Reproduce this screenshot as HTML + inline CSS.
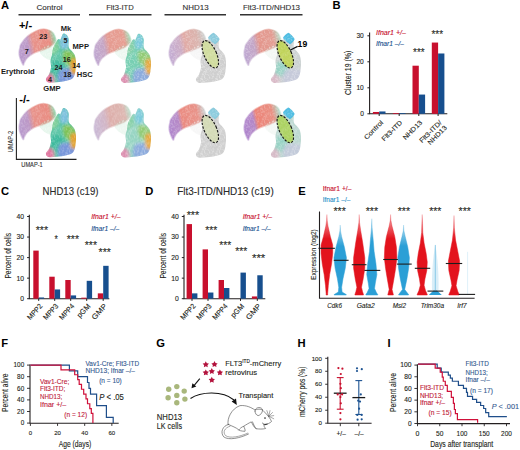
<!DOCTYPE html>
<html><head><meta charset="utf-8"><style>
html,body{margin:0;padding:0;background:#fff;width:520px;height:450px;overflow:hidden}
svg{display:block}
text{font-family:"Liberation Sans", sans-serif}
</style></head><body>
<svg width="520" height="450" viewBox="0 0 520 450" font-family='"Liberation Sans", sans-serif'>
<rect width="520" height="450" fill="#fff"/>
<text x="1.0" y="9.4" font-size="11.2" fill="#000" font-weight="bold">A</text>
<text x="332.6" y="9.4" font-size="11.2" fill="#000" font-weight="bold">B</text>
<text x="1.0" y="194.7" font-size="11.2" fill="#000" font-weight="bold">C</text>
<text x="145.2" y="194.7" font-size="11.2" fill="#000" font-weight="bold">D</text>
<text x="298.3" y="194.7" font-size="11.2" fill="#000" font-weight="bold">E</text>
<text x="1.2" y="346.9" font-size="11.2" fill="#000" font-weight="bold">F</text>
<text x="156.3" y="346.9" font-size="11.2" fill="#000" font-weight="bold">G</text>
<text x="297.4" y="346.9" font-size="11.2" fill="#000" font-weight="bold">H</text>
<text x="387.4" y="346.9" font-size="11.2" fill="#000" font-weight="bold">I</text>
<text x="49.5" y="10.1" font-size="7.8" fill="#333" stroke="#333" stroke-width="0.12" text-anchor="middle" textLength="26" lengthAdjust="spacingAndGlyphs">Control</text>
<text x="120" y="10.1" font-size="7.8" fill="#333" stroke="#333" stroke-width="0.12" text-anchor="middle" textLength="27.6" lengthAdjust="spacingAndGlyphs">Flt3-ITD</text>
<text x="195.6" y="10.1" font-size="7.8" fill="#333" stroke="#333" stroke-width="0.12" text-anchor="middle" textLength="26" lengthAdjust="spacingAndGlyphs">NHD13</text>
<text x="271.5" y="10.1" font-size="7.8" fill="#333" stroke="#333" stroke-width="0.12" text-anchor="middle" textLength="57" lengthAdjust="spacingAndGlyphs">Flt3-ITD/NHD13</text>
<line x1="18.5" y1="14.8" x2="80" y2="14.8" stroke="#333" stroke-width="1.5" />
<line x1="89" y1="14.8" x2="151.5" y2="14.8" stroke="#333" stroke-width="1.5" />
<line x1="164.5" y1="14.8" x2="226" y2="14.8" stroke="#333" stroke-width="1.5" />
<line x1="240" y1="14.8" x2="302.5" y2="14.8" stroke="#333" stroke-width="1.5" />
<defs><filter id="soft2" x="-10%" y="-10%" width="120%" height="120%"><feGaussianBlur stdDeviation="1.5"/></filter><filter id="edge" x="-10%" y="-10%" width="120%" height="120%"><feGaussianBlur stdDeviation="0.45"/></filter><clipPath id="brc"><rect x="0" y="0" width="70" height="70"/></clipPath><pattern id="spk" width="15" height="15" patternUnits="userSpaceOnUse"><g fill="#fff"><circle cx="6.8" cy="8.4" r="0.53"/><circle cx="7.0" cy="7.6" r="0.45"/><circle cx="2.8" cy="7.7" r="0.46"/><circle cx="11.9" cy="1.4" r="0.38"/><circle cx="1.4" cy="12.1" r="0.47"/><circle cx="0.6" cy="-0.3" r="0.54"/><circle cx="0.6" cy="14.7" r="0.54"/><circle cx="9.8" cy="9.2" r="0.34"/><circle cx="0.2" cy="7.9" r="0.31"/><circle cx="15.2" cy="7.9" r="0.31"/><circle cx="2.9" cy="3.6" r="0.31"/><circle cx="7.0" cy="6.6" r="0.51"/><circle cx="7.8" cy="9.6" r="0.42"/><circle cx="9.9" cy="6.9" r="0.37"/><circle cx="-0.0" cy="-0.1" r="0.51"/><circle cx="-0.0" cy="14.9" r="0.51"/><circle cx="15.0" cy="-0.1" r="0.51"/><circle cx="15.0" cy="14.9" r="0.51"/><circle cx="10.6" cy="4.7" r="0.36"/><circle cx="4.3" cy="1.1" r="0.49"/><circle cx="6.0" cy="12.7" r="0.40"/><circle cx="14.4" cy="12.7" r="0.30"/><circle cx="3.1" cy="13.7" r="0.42"/><circle cx="-0.3" cy="6.0" r="0.32"/><circle cx="14.7" cy="6.0" r="0.32"/><circle cx="9.4" cy="11.7" r="0.37"/><circle cx="1.3" cy="5.0" r="0.54"/><circle cx="11.4" cy="1.8" r="0.36"/><circle cx="1.5" cy="0.9" r="0.50"/><circle cx="2.7" cy="8.4" r="0.41"/><circle cx="2.9" cy="11.0" r="0.33"/><circle cx="9.7" cy="1.7" r="0.41"/><circle cx="3.2" cy="4.0" r="0.54"/><circle cx="12.1" cy="4.6" r="0.52"/><circle cx="3.2" cy="5.9" r="0.51"/><circle cx="9.6" cy="1.5" r="0.55"/><circle cx="3.2" cy="3.9" r="0.49"/><circle cx="4.9" cy="4.4" r="0.32"/><circle cx="1.4" cy="8.7" r="0.36"/><circle cx="9.0" cy="5.6" r="0.41"/><circle cx="14.4" cy="7.3" r="0.44"/><circle cx="13.0" cy="2.7" r="0.34"/><circle cx="13.6" cy="12.3" r="0.36"/><circle cx="2.8" cy="11.1" r="0.54"/><circle cx="2.9" cy="14.3" r="0.52"/><circle cx="9.1" cy="6.3" r="0.33"/><circle cx="0.6" cy="-0.6" r="0.36"/><circle cx="0.6" cy="14.4" r="0.36"/><circle cx="15.6" cy="-0.6" r="0.36"/><circle cx="15.6" cy="14.4" r="0.36"/><circle cx="10.6" cy="3.9" r="0.51"/><circle cx="8.9" cy="4.4" r="0.34"/><circle cx="10.8" cy="1.0" r="0.36"/><circle cx="8.4" cy="12.8" r="0.45"/><circle cx="4.2" cy="13.8" r="0.35"/><circle cx="0.2" cy="4.0" r="0.41"/><circle cx="15.2" cy="4.0" r="0.41"/><circle cx="0.9" cy="2.6" r="0.39"/><circle cx="8.6" cy="2.0" r="0.39"/><circle cx="13.4" cy="-0.3" r="0.46"/><circle cx="13.4" cy="14.7" r="0.46"/><circle cx="10.4" cy="8.8" r="0.34"/><circle cx="0.5" cy="0.3" r="0.53"/><circle cx="0.5" cy="15.3" r="0.53"/><circle cx="15.5" cy="0.3" r="0.53"/><circle cx="15.5" cy="15.3" r="0.53"/><circle cx="10.5" cy="-0.6" r="0.31"/><circle cx="10.5" cy="14.4" r="0.31"/><circle cx="9.5" cy="7.2" r="0.48"/><circle cx="4.8" cy="-0.0" r="0.32"/><circle cx="4.8" cy="15.0" r="0.32"/><circle cx="8.2" cy="11.1" r="0.53"/><circle cx="11.1" cy="10.6" r="0.50"/><circle cx="13.7" cy="5.3" r="0.47"/><circle cx="13.5" cy="13.1" r="0.40"/><circle cx="11.9" cy="13.0" r="0.44"/><circle cx="9.4" cy="5.7" r="0.45"/><circle cx="9.1" cy="1.2" r="0.46"/><circle cx="-0.1" cy="13.2" r="0.48"/><circle cx="14.9" cy="13.2" r="0.48"/><circle cx="5.8" cy="11.0" r="0.45"/><circle cx="6.6" cy="12.6" r="0.32"/><circle cx="11.3" cy="0.4" r="0.45"/><circle cx="11.3" cy="15.4" r="0.45"/><circle cx="7.2" cy="3.5" r="0.47"/><circle cx="7.5" cy="9.2" r="0.53"/><circle cx="3.8" cy="0.2" r="0.38"/><circle cx="3.8" cy="15.2" r="0.38"/><circle cx="10.2" cy="3.0" r="0.34"/><circle cx="13.6" cy="9.9" r="0.41"/><circle cx="13.4" cy="4.9" r="0.47"/><circle cx="3.0" cy="6.5" r="0.50"/><circle cx="13.7" cy="13.2" r="0.40"/><circle cx="8.7" cy="4.7" r="0.33"/><circle cx="7.4" cy="12.6" r="0.51"/><circle cx="10.7" cy="14.3" r="0.37"/><circle cx="2.5" cy="6.8" r="0.37"/><circle cx="3.2" cy="6.2" r="0.46"/><circle cx="7.4" cy="4.7" r="0.51"/><circle cx="-0.3" cy="6.8" r="0.32"/><circle cx="14.7" cy="6.8" r="0.32"/><circle cx="0.5" cy="13.1" r="0.31"/><circle cx="15.5" cy="13.1" r="0.31"/><circle cx="10.6" cy="8.6" r="0.38"/><circle cx="11.9" cy="0.3" r="0.33"/><circle cx="11.9" cy="15.3" r="0.33"/><circle cx="6.8" cy="0.4" r="0.51"/><circle cx="6.8" cy="15.4" r="0.51"/><circle cx="3.6" cy="2.1" r="0.31"/><circle cx="9.4" cy="6.7" r="0.46"/><circle cx="9.8" cy="12.1" r="0.54"/><circle cx="10.3" cy="3.0" r="0.42"/><circle cx="2.7" cy="0.2" r="0.42"/><circle cx="2.7" cy="15.2" r="0.42"/><circle cx="10.7" cy="2.7" r="0.37"/><circle cx="5.2" cy="10.5" r="0.43"/><circle cx="9.2" cy="11.3" r="0.40"/><circle cx="11.9" cy="13.6" r="0.32"/><circle cx="14.0" cy="10.8" r="0.33"/><circle cx="6.8" cy="9.4" r="0.53"/><circle cx="5.7" cy="8.5" r="0.52"/><circle cx="12.0" cy="14.2" r="0.42"/><circle cx="9.8" cy="3.1" r="0.48"/><circle cx="12.3" cy="9.6" r="0.48"/><circle cx="3.2" cy="13.5" r="0.55"/><circle cx="-0.3" cy="8.1" r="0.50"/><circle cx="14.7" cy="8.1" r="0.50"/><circle cx="4.8" cy="13.6" r="0.51"/><circle cx="5.2" cy="1.2" r="0.41"/><circle cx="8.3" cy="11.5" r="0.42"/><circle cx="0.4" cy="12.1" r="0.32"/><circle cx="15.4" cy="12.1" r="0.32"/><circle cx="12.0" cy="2.6" r="0.38"/><circle cx="11.8" cy="2.1" r="0.34"/><circle cx="7.7" cy="10.9" r="0.51"/><circle cx="10.3" cy="14.2" r="0.42"/><circle cx="14.2" cy="1.3" r="0.36"/><circle cx="7.9" cy="4.4" r="0.48"/><circle cx="9.6" cy="7.8" r="0.51"/><circle cx="8.4" cy="4.7" r="0.40"/><circle cx="12.7" cy="13.5" r="0.35"/><circle cx="12.8" cy="-0.5" r="0.43"/><circle cx="12.8" cy="14.5" r="0.43"/><circle cx="8.6" cy="3.0" r="0.43"/><circle cx="7.5" cy="9.1" r="0.31"/><circle cx="-0.5" cy="7.7" r="0.40"/><circle cx="14.5" cy="7.7" r="0.40"/><circle cx="12.0" cy="8.4" r="0.42"/><circle cx="10.4" cy="1.0" r="0.43"/><circle cx="6.2" cy="14.4" r="0.53"/><circle cx="4.0" cy="7.1" r="0.33"/><circle cx="6.5" cy="12.2" r="0.53"/><circle cx="7.1" cy="4.8" r="0.35"/><circle cx="9.3" cy="13.9" r="0.33"/><circle cx="11.7" cy="0.3" r="0.35"/><circle cx="11.7" cy="15.3" r="0.35"/><circle cx="3.4" cy="10.3" r="0.38"/><circle cx="5.3" cy="9.3" r="0.33"/><circle cx="11.0" cy="1.8" r="0.43"/></g></pattern></defs>
<g transform="translate(15 24.8)">
<defs><linearGradient id="cg1" gradientUnits="userSpaceOnUse" x1="4" y1="22" x2="40" y2="14"><stop offset="0" stop-color="#b899cc"/><stop offset="0.25" stop-color="#bc98c6"/><stop offset="0.4" stop-color="#e7928a"/><stop offset="0.84" stop-color="#e98b80"/><stop offset="1" stop-color="#94d0a8"/></linearGradient><clipPath id="cc1"><path d="M8.10 39.90 C7.43 39.07 5.65 34.93 5.00 33.00 C4.35 31.07 4.20 29.97 4.20 28.30 C4.20 26.63 4.65 24.55 5.00 23.00 C5.35 21.45 5.02 20.93 6.30 19.00 C7.58 17.07 10.20 13.53 12.70 11.40 C15.20 9.27 18.65 7.38 21.30 6.20 C23.95 5.02 26.15 4.25 28.60 4.30 C31.05 4.35 34.13 5.30 36.00 6.50 C37.87 7.70 39.08 9.75 39.80 11.50 C40.52 13.25 41.18 15.22 40.30 17.00 C39.42 18.78 36.72 20.82 34.50 22.20 C32.28 23.58 29.58 24.30 27.00 25.30 C24.42 26.30 21.48 26.90 19.00 28.20 C16.52 29.50 13.77 31.47 12.10 33.10 C10.43 34.73 9.67 36.87 9.00 38.00 C8.33 39.13 8.77 40.73 8.10 39.90Z"/></clipPath><clipPath id="cb1"><path d="M45.50 14.50 C46.33 13.58 47.00 9.75 48.00 9.00 C49.00 8.25 50.53 9.08 51.50 10.00 C52.47 10.92 53.42 12.42 53.80 14.50 C54.18 16.58 53.27 20.50 53.80 22.50 C54.33 24.50 56.00 25.17 57.00 26.50 C58.00 27.83 59.13 28.72 59.80 30.50 C60.47 32.28 60.90 34.53 61.00 37.20 C61.10 39.87 60.90 43.83 60.40 46.50 C59.90 49.17 59.48 51.62 58.00 53.20 C56.52 54.78 54.18 55.28 51.50 56.00 C48.82 56.72 44.90 57.20 41.90 57.50 C38.90 57.80 35.33 58.37 33.50 57.80 C31.67 57.23 30.83 55.45 30.90 54.10 C30.97 52.75 33.05 51.62 33.90 49.70 C34.75 47.78 35.73 44.88 36.00 42.60 C36.27 40.32 35.33 38.10 35.50 36.00 C35.67 33.90 36.67 31.75 37.00 30.00 C37.33 28.25 37.08 27.17 37.50 25.50 C37.92 23.83 38.58 21.83 39.50 20.00 C40.42 18.17 42.00 15.42 43.00 14.50 C44.00 13.58 44.67 15.42 45.50 14.50Z"/></clipPath></defs>
<g filter="url(#edge)">
<path d="M8.10 39.90 C7.43 39.07 5.65 34.93 5.00 33.00 C4.35 31.07 4.20 29.97 4.20 28.30 C4.20 26.63 4.65 24.55 5.00 23.00 C5.35 21.45 5.02 20.93 6.30 19.00 C7.58 17.07 10.20 13.53 12.70 11.40 C15.20 9.27 18.65 7.38 21.30 6.20 C23.95 5.02 26.15 4.25 28.60 4.30 C31.05 4.35 34.13 5.30 36.00 6.50 C37.87 7.70 39.08 9.75 39.80 11.50 C40.52 13.25 41.18 15.22 40.30 17.00 C39.42 18.78 36.72 20.82 34.50 22.20 C32.28 23.58 29.58 24.30 27.00 25.30 C24.42 26.30 21.48 26.90 19.00 28.20 C16.52 29.50 13.77 31.47 12.10 33.10 C10.43 34.73 9.67 36.87 9.00 38.00 C8.33 39.13 8.77 40.73 8.10 39.90Z" fill="none" stroke="url(#cg1)" stroke-width="1.8" stroke-opacity="0.45"/>
<g clip-path="url(#cc1)"><rect x="0" y="0" width="45" height="45" fill="url(#cg1)"/><rect x="0" y="0" width="45" height="45" fill="url(#spk)" fill-opacity="0.25"/></g>
<g clip-path="url(#brc)"><path d="M26.00 24.50 C27.83 23.17 34.00 19.42 36.00 20.00 C38.00 20.58 38.00 25.50 38.00 28.00 C38.00 30.50 37.33 34.17 36.00 35.00 C34.67 35.83 31.83 34.17 30.00 33.00 C28.17 31.83 25.67 29.42 25.00 28.00 C24.33 26.58 24.17 25.83 26.00 24.50Z" fill="#8fd4a8" fill-opacity="0.22"/><path d="M26.00 24.50 C27.83 23.17 34.00 19.42 36.00 20.00 C38.00 20.58 38.00 25.50 38.00 28.00 C38.00 30.50 37.33 34.17 36.00 35.00 C34.67 35.83 31.83 34.17 30.00 33.00 C28.17 31.83 25.67 29.42 25.00 28.00 C24.33 26.58 24.17 25.83 26.00 24.50Z" fill="url(#spk)" fill-opacity="0.5"/></g>
<g clip-path="url(#cb1)"><g filter="url(#soft2)">
<rect x="25" y="5" width="42" height="58" fill="#5cc5a6"/>
<path d="M36.00 14.00 C37.50 12.17 40.67 13.33 42.00 15.00 C43.33 16.67 44.67 21.50 44.00 24.00 C43.33 26.50 39.83 29.67 38.00 30.00 C36.17 30.33 33.33 28.67 33.00 26.00 C32.67 23.33 34.50 15.83 36.00 14.00Z" fill="#7fcf9a" fill-opacity="1"/>
<path d="M49.00 26.00 C50.50 25.00 54.83 25.83 57.00 27.00 C59.17 28.17 61.33 30.83 62.00 33.00 C62.67 35.17 62.67 38.83 61.00 40.00 C59.33 41.17 54.17 41.17 52.00 40.00 C49.83 38.83 48.50 35.33 48.00 33.00 C47.50 30.67 47.50 27.00 49.00 26.00Z" fill="#7fc256" fill-opacity="1"/>
<path d="M36.00 38.00 C37.67 35.83 43.83 36.00 46.00 37.00 C48.17 38.00 49.17 41.83 49.00 44.00 C48.83 46.17 47.17 49.00 45.00 50.00 C42.83 51.00 37.50 52.00 36.00 50.00 C34.50 48.00 34.33 40.17 36.00 38.00Z" fill="#3cb99d" fill-opacity="1"/>
<path d="M45.00 45.00 C47.17 42.67 54.00 43.50 57.00 44.00 C60.00 44.50 62.50 45.83 63.00 48.00 C63.50 50.17 63.17 55.33 60.00 57.00 C56.83 58.67 46.50 60.00 44.00 58.00 C41.50 56.00 42.83 47.33 45.00 45.00Z" fill="#7896da" fill-opacity="1"/>
<path d="M28.00 50.00 C29.17 48.08 33.17 48.00 35.00 48.50 C36.83 49.00 38.50 51.08 39.00 53.00 C39.50 54.92 39.83 58.83 38.00 60.00 C36.17 61.17 29.67 61.67 28.00 60.00 C26.33 58.33 26.83 51.92 28.00 50.00Z" fill="#df78a0" fill-opacity="1"/>
<path d="M55.50 35.50 C56.50 33.25 60.50 33.42 62.00 34.50 C63.50 35.58 64.50 39.58 64.50 42.00 C64.50 44.42 63.42 48.00 62.00 49.00 C60.58 50.00 57.08 50.25 56.00 48.00 C54.92 45.75 54.50 37.75 55.50 35.50Z" fill="#e1a232" fill-opacity="1"/>
<path d="M45.50 14.50 C46.00 12.50 47.00 9.75 48.00 9.00 C49.00 8.25 50.58 9.08 51.50 10.00 C52.42 10.92 53.20 12.50 53.50 14.50 C53.80 16.50 54.13 20.33 53.30 22.00 C52.47 23.67 49.88 24.67 48.50 24.50 C47.12 24.33 45.50 22.67 45.00 21.00 C44.50 19.33 45.00 16.50 45.50 14.50Z" fill="#7cc0de" fill-opacity="1"/>
</g>
<rect x="25" y="5" width="42" height="58" fill="url(#spk)" fill-opacity="0.3"/>
</g>
</g>
</g>
<g transform="translate(90 25)">
<defs><linearGradient id="cg2" gradientUnits="userSpaceOnUse" x1="4" y1="22" x2="40" y2="14"><stop offset="0" stop-color="#bfa6cf"/><stop offset="0.27" stop-color="#c6a6c4"/><stop offset="0.42" stop-color="#e59b91"/><stop offset="0.84" stop-color="#e79e92"/><stop offset="1" stop-color="#a5d6b4"/></linearGradient><clipPath id="cc2"><path d="M8.10 39.90 C7.43 39.07 5.65 34.93 5.00 33.00 C4.35 31.07 4.20 29.97 4.20 28.30 C4.20 26.63 4.65 24.55 5.00 23.00 C5.35 21.45 5.02 20.93 6.30 19.00 C7.58 17.07 10.20 13.53 12.70 11.40 C15.20 9.27 18.65 7.38 21.30 6.20 C23.95 5.02 26.15 4.25 28.60 4.30 C31.05 4.35 34.13 5.30 36.00 6.50 C37.87 7.70 39.08 9.75 39.80 11.50 C40.52 13.25 41.18 15.22 40.30 17.00 C39.42 18.78 36.72 20.82 34.50 22.20 C32.28 23.58 29.58 24.30 27.00 25.30 C24.42 26.30 21.48 26.90 19.00 28.20 C16.52 29.50 13.77 31.47 12.10 33.10 C10.43 34.73 9.67 36.87 9.00 38.00 C8.33 39.13 8.77 40.73 8.10 39.90Z"/></clipPath><clipPath id="cb2"><path d="M45.50 14.50 C46.33 13.58 47.00 9.75 48.00 9.00 C49.00 8.25 50.53 9.08 51.50 10.00 C52.47 10.92 53.42 12.42 53.80 14.50 C54.18 16.58 53.27 20.50 53.80 22.50 C54.33 24.50 56.00 25.17 57.00 26.50 C58.00 27.83 59.13 28.72 59.80 30.50 C60.47 32.28 60.90 34.53 61.00 37.20 C61.10 39.87 60.90 43.83 60.40 46.50 C59.90 49.17 59.48 51.62 58.00 53.20 C56.52 54.78 54.18 55.28 51.50 56.00 C48.82 56.72 44.90 57.20 41.90 57.50 C38.90 57.80 35.33 58.37 33.50 57.80 C31.67 57.23 30.83 55.45 30.90 54.10 C30.97 52.75 33.05 51.62 33.90 49.70 C34.75 47.78 35.73 44.88 36.00 42.60 C36.27 40.32 35.33 38.10 35.50 36.00 C35.67 33.90 36.67 31.75 37.00 30.00 C37.33 28.25 37.08 27.17 37.50 25.50 C37.92 23.83 38.58 21.83 39.50 20.00 C40.42 18.17 42.00 15.42 43.00 14.50 C44.00 13.58 44.67 15.42 45.50 14.50Z"/></clipPath></defs>
<g filter="url(#edge)">
<path d="M8.10 39.90 C7.43 39.07 5.65 34.93 5.00 33.00 C4.35 31.07 4.20 29.97 4.20 28.30 C4.20 26.63 4.65 24.55 5.00 23.00 C5.35 21.45 5.02 20.93 6.30 19.00 C7.58 17.07 10.20 13.53 12.70 11.40 C15.20 9.27 18.65 7.38 21.30 6.20 C23.95 5.02 26.15 4.25 28.60 4.30 C31.05 4.35 34.13 5.30 36.00 6.50 C37.87 7.70 39.08 9.75 39.80 11.50 C40.52 13.25 41.18 15.22 40.30 17.00 C39.42 18.78 36.72 20.82 34.50 22.20 C32.28 23.58 29.58 24.30 27.00 25.30 C24.42 26.30 21.48 26.90 19.00 28.20 C16.52 29.50 13.77 31.47 12.10 33.10 C10.43 34.73 9.67 36.87 9.00 38.00 C8.33 39.13 8.77 40.73 8.10 39.90Z" fill="none" stroke="url(#cg2)" stroke-width="1.8" stroke-opacity="0.45"/>
<g clip-path="url(#cc2)"><rect x="0" y="0" width="45" height="45" fill="url(#cg2)"/><rect x="0" y="0" width="45" height="45" fill="url(#spk)" fill-opacity="0.25"/></g>
<g clip-path="url(#brc)"><path d="M26.00 24.50 C27.83 23.17 34.00 19.42 36.00 20.00 C38.00 20.58 38.00 25.50 38.00 28.00 C38.00 30.50 37.33 34.17 36.00 35.00 C34.67 35.83 31.83 34.17 30.00 33.00 C28.17 31.83 25.67 29.42 25.00 28.00 C24.33 26.58 24.17 25.83 26.00 24.50Z" fill="#a7dcbc" fill-opacity="0.22"/><path d="M26.00 24.50 C27.83 23.17 34.00 19.42 36.00 20.00 C38.00 20.58 38.00 25.50 38.00 28.00 C38.00 30.50 37.33 34.17 36.00 35.00 C34.67 35.83 31.83 34.17 30.00 33.00 C28.17 31.83 25.67 29.42 25.00 28.00 C24.33 26.58 24.17 25.83 26.00 24.50Z" fill="url(#spk)" fill-opacity="0.5"/></g>
<g clip-path="url(#cb2)"><g filter="url(#soft2)">
<rect x="25" y="5" width="42" height="58" fill="#78cfb3"/>
<path d="M36.00 14.00 C37.50 12.17 40.67 13.33 42.00 15.00 C43.33 16.67 44.67 21.50 44.00 24.00 C43.33 26.50 39.83 29.67 38.00 30.00 C36.17 30.33 33.33 28.67 33.00 26.00 C32.67 23.33 34.50 15.83 36.00 14.00Z" fill="#88d0a8" fill-opacity="1"/>
<path d="M49.00 26.00 C50.50 25.00 54.83 25.83 57.00 27.00 C59.17 28.17 61.33 30.83 62.00 33.00 C62.67 35.17 62.67 38.83 61.00 40.00 C59.33 41.17 54.17 41.17 52.00 40.00 C49.83 38.83 48.50 35.33 48.00 33.00 C47.50 30.67 47.50 27.00 49.00 26.00Z" fill="#92cb74" fill-opacity="1"/>
<path d="M45.00 45.00 C47.17 42.67 54.00 43.50 57.00 44.00 C60.00 44.50 62.50 45.83 63.00 48.00 C63.50 50.17 63.17 55.33 60.00 57.00 C56.83 58.67 46.50 60.00 44.00 58.00 C41.50 56.00 42.83 47.33 45.00 45.00Z" fill="#8cabdd" fill-opacity="1"/>
<path d="M28.00 50.00 C29.17 48.08 33.17 48.00 35.00 48.50 C36.83 49.00 38.50 51.08 39.00 53.00 C39.50 54.92 39.83 58.83 38.00 60.00 C36.17 61.17 29.67 61.67 28.00 60.00 C26.33 58.33 26.83 51.92 28.00 50.00Z" fill="#dc90b0" fill-opacity="1"/>
<path d="M55.50 35.50 C56.50 33.25 60.50 33.42 62.00 34.50 C63.50 35.58 64.50 39.58 64.50 42.00 C64.50 44.42 63.42 48.00 62.00 49.00 C60.58 50.00 57.08 50.25 56.00 48.00 C54.92 45.75 54.50 37.75 55.50 35.50Z" fill="#e6aa44" fill-opacity="1"/>
<path d="M45.50 14.50 C46.00 12.50 47.00 9.75 48.00 9.00 C49.00 8.25 50.58 9.08 51.50 10.00 C52.42 10.92 53.20 12.50 53.50 14.50 C53.80 16.50 54.13 20.33 53.30 22.00 C52.47 23.67 49.88 24.67 48.50 24.50 C47.12 24.33 45.50 22.67 45.00 21.00 C44.50 19.33 45.00 16.50 45.50 14.50Z" fill="#7ccadc" fill-opacity="1"/>
</g>
<rect x="25" y="5" width="42" height="58" fill="url(#spk)" fill-opacity="0.4"/>
</g>
</g>
</g>
<g transform="translate(165 25)">
<defs><linearGradient id="cg3" gradientUnits="userSpaceOnUse" x1="4" y1="22" x2="40" y2="14"><stop offset="0" stop-color="#c4acd2"/><stop offset="0.3" stop-color="#cdaec6"/><stop offset="0.45" stop-color="#e1aba6"/><stop offset="0.8" stop-color="#dab4ae"/><stop offset="1" stop-color="#cbcccb"/></linearGradient><clipPath id="cc3"><path d="M8.10 39.90 C7.43 39.07 5.65 34.93 5.00 33.00 C4.35 31.07 4.20 29.97 4.20 28.30 C4.20 26.63 4.65 24.55 5.00 23.00 C5.35 21.45 5.02 20.93 6.30 19.00 C7.58 17.07 10.20 13.53 12.70 11.40 C15.20 9.27 18.65 7.38 21.30 6.20 C23.95 5.02 26.15 4.25 28.60 4.30 C31.05 4.35 34.13 5.30 36.00 6.50 C37.87 7.70 39.08 9.75 39.80 11.50 C40.52 13.25 41.18 15.22 40.30 17.00 C39.42 18.78 36.72 20.82 34.50 22.20 C32.28 23.58 29.58 24.30 27.00 25.30 C24.42 26.30 21.48 26.90 19.00 28.20 C16.52 29.50 13.77 31.47 12.10 33.10 C10.43 34.73 9.67 36.87 9.00 38.00 C8.33 39.13 8.77 40.73 8.10 39.90Z"/></clipPath><clipPath id="cb3"><path d="M45.50 14.50 C46.33 13.58 47.00 9.75 48.00 9.00 C49.00 8.25 50.53 9.08 51.50 10.00 C52.47 10.92 53.42 12.42 53.80 14.50 C54.18 16.58 53.27 20.50 53.80 22.50 C54.33 24.50 56.00 25.17 57.00 26.50 C58.00 27.83 59.13 28.72 59.80 30.50 C60.47 32.28 60.90 34.53 61.00 37.20 C61.10 39.87 60.90 43.83 60.40 46.50 C59.90 49.17 59.48 51.62 58.00 53.20 C56.52 54.78 54.18 55.28 51.50 56.00 C48.82 56.72 44.90 57.20 41.90 57.50 C38.90 57.80 35.33 58.37 33.50 57.80 C31.67 57.23 30.83 55.45 30.90 54.10 C30.97 52.75 33.05 51.62 33.90 49.70 C34.75 47.78 35.73 44.88 36.00 42.60 C36.27 40.32 35.33 38.10 35.50 36.00 C35.67 33.90 36.67 31.75 37.00 30.00 C37.33 28.25 37.08 27.17 37.50 25.50 C37.92 23.83 38.58 21.83 39.50 20.00 C40.42 18.17 42.00 15.42 43.00 14.50 C44.00 13.58 44.67 15.42 45.50 14.50Z"/></clipPath></defs>
<g filter="url(#edge)">
<path d="M8.10 39.90 C7.43 39.07 5.65 34.93 5.00 33.00 C4.35 31.07 4.20 29.97 4.20 28.30 C4.20 26.63 4.65 24.55 5.00 23.00 C5.35 21.45 5.02 20.93 6.30 19.00 C7.58 17.07 10.20 13.53 12.70 11.40 C15.20 9.27 18.65 7.38 21.30 6.20 C23.95 5.02 26.15 4.25 28.60 4.30 C31.05 4.35 34.13 5.30 36.00 6.50 C37.87 7.70 39.08 9.75 39.80 11.50 C40.52 13.25 41.18 15.22 40.30 17.00 C39.42 18.78 36.72 20.82 34.50 22.20 C32.28 23.58 29.58 24.30 27.00 25.30 C24.42 26.30 21.48 26.90 19.00 28.20 C16.52 29.50 13.77 31.47 12.10 33.10 C10.43 34.73 9.67 36.87 9.00 38.00 C8.33 39.13 8.77 40.73 8.10 39.90Z" fill="none" stroke="url(#cg3)" stroke-width="1.8" stroke-opacity="0.45"/>
<g clip-path="url(#cc3)"><rect x="0" y="0" width="45" height="45" fill="url(#cg3)"/><rect x="0" y="0" width="45" height="45" fill="url(#spk)" fill-opacity="0.3"/></g>
<g clip-path="url(#brc)"><path d="M26.00 24.50 C27.83 23.17 34.00 19.42 36.00 20.00 C38.00 20.58 38.00 25.50 38.00 28.00 C38.00 30.50 37.33 34.17 36.00 35.00 C34.67 35.83 31.83 34.17 30.00 33.00 C28.17 31.83 25.67 29.42 25.00 28.00 C24.33 26.58 24.17 25.83 26.00 24.50Z" fill="#d6d6d6" fill-opacity="0.22"/><path d="M26.00 24.50 C27.83 23.17 34.00 19.42 36.00 20.00 C38.00 20.58 38.00 25.50 38.00 28.00 C38.00 30.50 37.33 34.17 36.00 35.00 C34.67 35.83 31.83 34.17 30.00 33.00 C28.17 31.83 25.67 29.42 25.00 28.00 C24.33 26.58 24.17 25.83 26.00 24.50Z" fill="url(#spk)" fill-opacity="0.5"/></g>
<g clip-path="url(#cb3)"><g filter="url(#soft2)">
<rect x="25" y="5" width="42" height="58" fill="#cfcfcf"/>
</g>
<rect x="25" y="5" width="42" height="58" fill="url(#spk)" fill-opacity="0.45"/>
</g>
</g>
<path d="M43.00 13.10 C42.85 12.14 47.33 7.72 48.30 7.80 C49.27 7.88 54.45 13.04 54.60 14.00 C54.75 14.96 51.07 19.38 50.10 19.30 C49.13 19.23 43.15 14.06 43.00 13.10Z" fill="#8bcbdd" filter="url(#edge)"/>
<path d="M43.00 13.10 C42.85 12.14 47.33 7.72 48.30 7.80 C49.27 7.88 54.45 13.04 54.60 14.00 C54.75 14.96 51.07 19.38 50.10 19.30 C49.13 19.23 43.15 14.06 43.00 13.10Z" fill="url(#spk)" fill-opacity="0.3"/>
<ellipse cx="45.3" cy="29.3" rx="6.2" ry="14.7" transform="rotate(-24 45.3 29.3)" fill="#d0dc9e" filter="url(#edge)"/>
<ellipse cx="45.3" cy="29.3" rx="6.2" ry="14.7" transform="rotate(-24 45.3 29.3)" fill="url(#spk)" fill-opacity="0.25"/>
<ellipse cx="45.3" cy="29.3" rx="6.2" ry="14.7" transform="rotate(-24 45.3 29.3)" fill="none" stroke="#1a1a1a" stroke-width="1.15" stroke-dasharray="2.3 1.4"/>
</g>
<g transform="translate(240 25)">
<defs><linearGradient id="cg4" gradientUnits="userSpaceOnUse" x1="4" y1="22" x2="40" y2="14"><stop offset="0" stop-color="#bea7d0"/><stop offset="0.28" stop-color="#c4a6c6"/><stop offset="0.43" stop-color="#e3968c"/><stop offset="0.82" stop-color="#e39d93"/><stop offset="1" stop-color="#b8d4c0"/></linearGradient><clipPath id="cc4"><path d="M8.10 39.90 C7.43 39.07 5.65 34.93 5.00 33.00 C4.35 31.07 4.20 29.97 4.20 28.30 C4.20 26.63 4.65 24.55 5.00 23.00 C5.35 21.45 5.02 20.93 6.30 19.00 C7.58 17.07 10.20 13.53 12.70 11.40 C15.20 9.27 18.65 7.38 21.30 6.20 C23.95 5.02 26.15 4.25 28.60 4.30 C31.05 4.35 34.13 5.30 36.00 6.50 C37.87 7.70 39.08 9.75 39.80 11.50 C40.52 13.25 41.18 15.22 40.30 17.00 C39.42 18.78 36.72 20.82 34.50 22.20 C32.28 23.58 29.58 24.30 27.00 25.30 C24.42 26.30 21.48 26.90 19.00 28.20 C16.52 29.50 13.77 31.47 12.10 33.10 C10.43 34.73 9.67 36.87 9.00 38.00 C8.33 39.13 8.77 40.73 8.10 39.90Z"/></clipPath><clipPath id="cb4"><path d="M45.50 14.50 C46.33 13.58 47.00 9.75 48.00 9.00 C49.00 8.25 50.53 9.08 51.50 10.00 C52.47 10.92 53.42 12.42 53.80 14.50 C54.18 16.58 53.27 20.50 53.80 22.50 C54.33 24.50 56.00 25.17 57.00 26.50 C58.00 27.83 59.13 28.72 59.80 30.50 C60.47 32.28 60.90 34.53 61.00 37.20 C61.10 39.87 60.90 43.83 60.40 46.50 C59.90 49.17 59.48 51.62 58.00 53.20 C56.52 54.78 54.18 55.28 51.50 56.00 C48.82 56.72 44.90 57.20 41.90 57.50 C38.90 57.80 35.33 58.37 33.50 57.80 C31.67 57.23 30.83 55.45 30.90 54.10 C30.97 52.75 33.05 51.62 33.90 49.70 C34.75 47.78 35.73 44.88 36.00 42.60 C36.27 40.32 35.33 38.10 35.50 36.00 C35.67 33.90 36.67 31.75 37.00 30.00 C37.33 28.25 37.08 27.17 37.50 25.50 C37.92 23.83 38.58 21.83 39.50 20.00 C40.42 18.17 42.00 15.42 43.00 14.50 C44.00 13.58 44.67 15.42 45.50 14.50Z"/></clipPath></defs>
<g filter="url(#edge)">
<path d="M8.10 39.90 C7.43 39.07 5.65 34.93 5.00 33.00 C4.35 31.07 4.20 29.97 4.20 28.30 C4.20 26.63 4.65 24.55 5.00 23.00 C5.35 21.45 5.02 20.93 6.30 19.00 C7.58 17.07 10.20 13.53 12.70 11.40 C15.20 9.27 18.65 7.38 21.30 6.20 C23.95 5.02 26.15 4.25 28.60 4.30 C31.05 4.35 34.13 5.30 36.00 6.50 C37.87 7.70 39.08 9.75 39.80 11.50 C40.52 13.25 41.18 15.22 40.30 17.00 C39.42 18.78 36.72 20.82 34.50 22.20 C32.28 23.58 29.58 24.30 27.00 25.30 C24.42 26.30 21.48 26.90 19.00 28.20 C16.52 29.50 13.77 31.47 12.10 33.10 C10.43 34.73 9.67 36.87 9.00 38.00 C8.33 39.13 8.77 40.73 8.10 39.90Z" fill="none" stroke="url(#cg4)" stroke-width="1.8" stroke-opacity="0.45"/>
<g clip-path="url(#cc4)"><rect x="0" y="0" width="45" height="45" fill="url(#cg4)"/><rect x="0" y="0" width="45" height="45" fill="url(#spk)" fill-opacity="0.3"/></g>
<g clip-path="url(#brc)"><path d="M26.00 24.50 C27.83 23.17 34.00 19.42 36.00 20.00 C38.00 20.58 38.00 25.50 38.00 28.00 C38.00 30.50 37.33 34.17 36.00 35.00 C34.67 35.83 31.83 34.17 30.00 33.00 C28.17 31.83 25.67 29.42 25.00 28.00 C24.33 26.58 24.17 25.83 26.00 24.50Z" fill="#c8dccf" fill-opacity="0.22"/><path d="M26.00 24.50 C27.83 23.17 34.00 19.42 36.00 20.00 C38.00 20.58 38.00 25.50 38.00 28.00 C38.00 30.50 37.33 34.17 36.00 35.00 C34.67 35.83 31.83 34.17 30.00 33.00 C28.17 31.83 25.67 29.42 25.00 28.00 C24.33 26.58 24.17 25.83 26.00 24.50Z" fill="url(#spk)" fill-opacity="0.5"/></g>
<g clip-path="url(#cb4)"><g filter="url(#soft2)">
<rect x="25" y="5" width="42" height="58" fill="#ccd2d2"/>
<path d="M36.00 38.00 C37.67 35.83 43.83 36.00 46.00 37.00 C48.17 38.00 49.17 41.83 49.00 44.00 C48.83 46.17 47.17 49.00 45.00 50.00 C42.83 51.00 37.50 52.00 36.00 50.00 C34.50 48.00 34.33 40.17 36.00 38.00Z" fill="#92d2c2" fill-opacity="0.9"/>
<path d="M45.00 45.00 C47.17 42.67 54.00 43.50 57.00 44.00 C60.00 44.50 62.50 45.83 63.00 48.00 C63.50 50.17 63.17 55.33 60.00 57.00 C56.83 58.67 46.50 60.00 44.00 58.00 C41.50 56.00 42.83 47.33 45.00 45.00Z" fill="#c4c8dc" fill-opacity="0.8"/>
<path d="M28.00 50.00 C29.17 48.08 33.17 48.00 35.00 48.50 C36.83 49.00 38.50 51.08 39.00 53.00 C39.50 54.92 39.83 58.83 38.00 60.00 C36.17 61.17 29.67 61.67 28.00 60.00 C26.33 58.33 26.83 51.92 28.00 50.00Z" fill="#dcb4c4" fill-opacity="0.8"/>
</g>
<rect x="25" y="5" width="42" height="58" fill="url(#spk)" fill-opacity="0.35"/>
</g>
</g>
<path d="M43.00 13.10 C42.85 12.14 47.33 7.72 48.30 7.80 C49.27 7.88 54.45 13.04 54.60 14.00 C54.75 14.96 51.07 19.38 50.10 19.30 C49.13 19.23 43.15 14.06 43.00 13.10Z" fill="#4fbde2" filter="url(#edge)"/>
<path d="M43.00 13.10 C42.85 12.14 47.33 7.72 48.30 7.80 C49.27 7.88 54.45 13.04 54.60 14.00 C54.75 14.96 51.07 19.38 50.10 19.30 C49.13 19.23 43.15 14.06 43.00 13.10Z" fill="url(#spk)" fill-opacity="0.3"/>
<ellipse cx="45.3" cy="29.3" rx="6.2" ry="14.7" transform="rotate(-24 45.3 29.3)" fill="#c0d35a" filter="url(#edge)"/>
<ellipse cx="45.3" cy="29.3" rx="6.2" ry="14.7" transform="rotate(-24 45.3 29.3)" fill="url(#spk)" fill-opacity="0.25"/>
<ellipse cx="45.3" cy="29.3" rx="6.2" ry="14.7" transform="rotate(-24 45.3 29.3)" fill="none" stroke="#1a1a1a" stroke-width="1.15" stroke-dasharray="2.3 1.4"/>
</g>
<g transform="translate(15 99.3)">
<defs><linearGradient id="cg5" gradientUnits="userSpaceOnUse" x1="4" y1="22" x2="40" y2="14"><stop offset="0" stop-color="#b899cc"/><stop offset="0.25" stop-color="#bc98c6"/><stop offset="0.4" stop-color="#e7928a"/><stop offset="0.84" stop-color="#e98b80"/><stop offset="1" stop-color="#94d0a8"/></linearGradient><clipPath id="cc5"><path d="M8.10 39.90 C7.43 39.07 5.65 34.93 5.00 33.00 C4.35 31.07 4.20 29.97 4.20 28.30 C4.20 26.63 4.65 24.55 5.00 23.00 C5.35 21.45 5.02 20.93 6.30 19.00 C7.58 17.07 10.20 13.53 12.70 11.40 C15.20 9.27 18.65 7.38 21.30 6.20 C23.95 5.02 26.15 4.25 28.60 4.30 C31.05 4.35 34.13 5.30 36.00 6.50 C37.87 7.70 39.08 9.75 39.80 11.50 C40.52 13.25 41.18 15.22 40.30 17.00 C39.42 18.78 36.72 20.82 34.50 22.20 C32.28 23.58 29.58 24.30 27.00 25.30 C24.42 26.30 21.48 26.90 19.00 28.20 C16.52 29.50 13.77 31.47 12.10 33.10 C10.43 34.73 9.67 36.87 9.00 38.00 C8.33 39.13 8.77 40.73 8.10 39.90Z"/></clipPath><clipPath id="cb5"><path d="M45.50 14.50 C46.33 13.58 47.00 9.75 48.00 9.00 C49.00 8.25 50.53 9.08 51.50 10.00 C52.47 10.92 53.42 12.42 53.80 14.50 C54.18 16.58 53.27 20.50 53.80 22.50 C54.33 24.50 56.00 25.17 57.00 26.50 C58.00 27.83 59.13 28.72 59.80 30.50 C60.47 32.28 60.90 34.53 61.00 37.20 C61.10 39.87 60.90 43.83 60.40 46.50 C59.90 49.17 59.48 51.62 58.00 53.20 C56.52 54.78 54.18 55.28 51.50 56.00 C48.82 56.72 44.90 57.20 41.90 57.50 C38.90 57.80 35.33 58.37 33.50 57.80 C31.67 57.23 30.83 55.45 30.90 54.10 C30.97 52.75 33.05 51.62 33.90 49.70 C34.75 47.78 35.73 44.88 36.00 42.60 C36.27 40.32 35.33 38.10 35.50 36.00 C35.67 33.90 36.67 31.75 37.00 30.00 C37.33 28.25 37.08 27.17 37.50 25.50 C37.92 23.83 38.58 21.83 39.50 20.00 C40.42 18.17 42.00 15.42 43.00 14.50 C44.00 13.58 44.67 15.42 45.50 14.50Z"/></clipPath></defs>
<g filter="url(#edge)">
<path d="M8.10 39.90 C7.43 39.07 5.65 34.93 5.00 33.00 C4.35 31.07 4.20 29.97 4.20 28.30 C4.20 26.63 4.65 24.55 5.00 23.00 C5.35 21.45 5.02 20.93 6.30 19.00 C7.58 17.07 10.20 13.53 12.70 11.40 C15.20 9.27 18.65 7.38 21.30 6.20 C23.95 5.02 26.15 4.25 28.60 4.30 C31.05 4.35 34.13 5.30 36.00 6.50 C37.87 7.70 39.08 9.75 39.80 11.50 C40.52 13.25 41.18 15.22 40.30 17.00 C39.42 18.78 36.72 20.82 34.50 22.20 C32.28 23.58 29.58 24.30 27.00 25.30 C24.42 26.30 21.48 26.90 19.00 28.20 C16.52 29.50 13.77 31.47 12.10 33.10 C10.43 34.73 9.67 36.87 9.00 38.00 C8.33 39.13 8.77 40.73 8.10 39.90Z" fill="none" stroke="url(#cg5)" stroke-width="1.8" stroke-opacity="0.45"/>
<g clip-path="url(#cc5)"><rect x="0" y="0" width="45" height="45" fill="url(#cg5)"/><rect x="0" y="0" width="45" height="45" fill="url(#spk)" fill-opacity="0.25"/></g>
<g clip-path="url(#brc)"><path d="M26.00 24.50 C27.83 23.17 34.00 19.42 36.00 20.00 C38.00 20.58 38.00 25.50 38.00 28.00 C38.00 30.50 37.33 34.17 36.00 35.00 C34.67 35.83 31.83 34.17 30.00 33.00 C28.17 31.83 25.67 29.42 25.00 28.00 C24.33 26.58 24.17 25.83 26.00 24.50Z" fill="#8fd4a8" fill-opacity="0.22"/><path d="M26.00 24.50 C27.83 23.17 34.00 19.42 36.00 20.00 C38.00 20.58 38.00 25.50 38.00 28.00 C38.00 30.50 37.33 34.17 36.00 35.00 C34.67 35.83 31.83 34.17 30.00 33.00 C28.17 31.83 25.67 29.42 25.00 28.00 C24.33 26.58 24.17 25.83 26.00 24.50Z" fill="url(#spk)" fill-opacity="0.5"/></g>
<g clip-path="url(#cb5)"><g filter="url(#soft2)">
<rect x="25" y="5" width="42" height="58" fill="#5cc5a6"/>
<path d="M36.00 14.00 C37.50 12.17 40.67 13.33 42.00 15.00 C43.33 16.67 44.67 21.50 44.00 24.00 C43.33 26.50 39.83 29.67 38.00 30.00 C36.17 30.33 33.33 28.67 33.00 26.00 C32.67 23.33 34.50 15.83 36.00 14.00Z" fill="#7fcf9a" fill-opacity="1"/>
<path d="M49.00 26.00 C50.50 25.00 54.83 25.83 57.00 27.00 C59.17 28.17 61.33 30.83 62.00 33.00 C62.67 35.17 62.67 38.83 61.00 40.00 C59.33 41.17 54.17 41.17 52.00 40.00 C49.83 38.83 48.50 35.33 48.00 33.00 C47.50 30.67 47.50 27.00 49.00 26.00Z" fill="#7fc256" fill-opacity="1"/>
<path d="M36.00 38.00 C37.67 35.83 43.83 36.00 46.00 37.00 C48.17 38.00 49.17 41.83 49.00 44.00 C48.83 46.17 47.17 49.00 45.00 50.00 C42.83 51.00 37.50 52.00 36.00 50.00 C34.50 48.00 34.33 40.17 36.00 38.00Z" fill="#3cb99d" fill-opacity="1"/>
<path d="M45.00 45.00 C47.17 42.67 54.00 43.50 57.00 44.00 C60.00 44.50 62.50 45.83 63.00 48.00 C63.50 50.17 63.17 55.33 60.00 57.00 C56.83 58.67 46.50 60.00 44.00 58.00 C41.50 56.00 42.83 47.33 45.00 45.00Z" fill="#7896da" fill-opacity="1"/>
<path d="M28.00 50.00 C29.17 48.08 33.17 48.00 35.00 48.50 C36.83 49.00 38.50 51.08 39.00 53.00 C39.50 54.92 39.83 58.83 38.00 60.00 C36.17 61.17 29.67 61.67 28.00 60.00 C26.33 58.33 26.83 51.92 28.00 50.00Z" fill="#df78a0" fill-opacity="1"/>
<path d="M55.50 35.50 C56.50 33.25 60.50 33.42 62.00 34.50 C63.50 35.58 64.50 39.58 64.50 42.00 C64.50 44.42 63.42 48.00 62.00 49.00 C60.58 50.00 57.08 50.25 56.00 48.00 C54.92 45.75 54.50 37.75 55.50 35.50Z" fill="#e1a232" fill-opacity="1"/>
<path d="M45.50 14.50 C46.00 12.50 47.00 9.75 48.00 9.00 C49.00 8.25 50.58 9.08 51.50 10.00 C52.42 10.92 53.20 12.50 53.50 14.50 C53.80 16.50 54.13 20.33 53.30 22.00 C52.47 23.67 49.88 24.67 48.50 24.50 C47.12 24.33 45.50 22.67 45.00 21.00 C44.50 19.33 45.00 16.50 45.50 14.50Z" fill="#7cc0de" fill-opacity="1"/>
</g>
<rect x="25" y="5" width="42" height="58" fill="url(#spk)" fill-opacity="0.3"/>
</g>
</g>
</g>
<g transform="translate(90 99.5)">
<defs><linearGradient id="cg6" gradientUnits="userSpaceOnUse" x1="4" y1="22" x2="40" y2="14"><stop offset="0" stop-color="#cab8d4"/><stop offset="0.3" stop-color="#d2b6c6"/><stop offset="0.45" stop-color="#ddaeaa"/><stop offset="0.85" stop-color="#ddb7b1"/><stop offset="1" stop-color="#bcdcca"/></linearGradient><clipPath id="cc6"><path d="M8.10 39.90 C7.43 39.07 5.65 34.93 5.00 33.00 C4.35 31.07 4.20 29.97 4.20 28.30 C4.20 26.63 4.65 24.55 5.00 23.00 C5.35 21.45 5.02 20.93 6.30 19.00 C7.58 17.07 10.20 13.53 12.70 11.40 C15.20 9.27 18.65 7.38 21.30 6.20 C23.95 5.02 26.15 4.25 28.60 4.30 C31.05 4.35 34.13 5.30 36.00 6.50 C37.87 7.70 39.08 9.75 39.80 11.50 C40.52 13.25 41.18 15.22 40.30 17.00 C39.42 18.78 36.72 20.82 34.50 22.20 C32.28 23.58 29.58 24.30 27.00 25.30 C24.42 26.30 21.48 26.90 19.00 28.20 C16.52 29.50 13.77 31.47 12.10 33.10 C10.43 34.73 9.67 36.87 9.00 38.00 C8.33 39.13 8.77 40.73 8.10 39.90Z"/></clipPath><clipPath id="cb6"><path d="M45.50 14.50 C46.33 13.58 47.00 9.75 48.00 9.00 C49.00 8.25 50.53 9.08 51.50 10.00 C52.47 10.92 53.42 12.42 53.80 14.50 C54.18 16.58 53.27 20.50 53.80 22.50 C54.33 24.50 56.00 25.17 57.00 26.50 C58.00 27.83 59.13 28.72 59.80 30.50 C60.47 32.28 60.90 34.53 61.00 37.20 C61.10 39.87 60.90 43.83 60.40 46.50 C59.90 49.17 59.48 51.62 58.00 53.20 C56.52 54.78 54.18 55.28 51.50 56.00 C48.82 56.72 44.90 57.20 41.90 57.50 C38.90 57.80 35.33 58.37 33.50 57.80 C31.67 57.23 30.83 55.45 30.90 54.10 C30.97 52.75 33.05 51.62 33.90 49.70 C34.75 47.78 35.73 44.88 36.00 42.60 C36.27 40.32 35.33 38.10 35.50 36.00 C35.67 33.90 36.67 31.75 37.00 30.00 C37.33 28.25 37.08 27.17 37.50 25.50 C37.92 23.83 38.58 21.83 39.50 20.00 C40.42 18.17 42.00 15.42 43.00 14.50 C44.00 13.58 44.67 15.42 45.50 14.50Z"/></clipPath></defs>
<g filter="url(#edge)">
<path d="M8.10 39.90 C7.43 39.07 5.65 34.93 5.00 33.00 C4.35 31.07 4.20 29.97 4.20 28.30 C4.20 26.63 4.65 24.55 5.00 23.00 C5.35 21.45 5.02 20.93 6.30 19.00 C7.58 17.07 10.20 13.53 12.70 11.40 C15.20 9.27 18.65 7.38 21.30 6.20 C23.95 5.02 26.15 4.25 28.60 4.30 C31.05 4.35 34.13 5.30 36.00 6.50 C37.87 7.70 39.08 9.75 39.80 11.50 C40.52 13.25 41.18 15.22 40.30 17.00 C39.42 18.78 36.72 20.82 34.50 22.20 C32.28 23.58 29.58 24.30 27.00 25.30 C24.42 26.30 21.48 26.90 19.00 28.20 C16.52 29.50 13.77 31.47 12.10 33.10 C10.43 34.73 9.67 36.87 9.00 38.00 C8.33 39.13 8.77 40.73 8.10 39.90Z" fill="none" stroke="url(#cg6)" stroke-width="1.8" stroke-opacity="0.45"/>
<g clip-path="url(#cc6)"><rect x="0" y="0" width="45" height="45" fill="url(#cg6)"/><rect x="0" y="0" width="45" height="45" fill="url(#spk)" fill-opacity="0.25"/></g>
<g clip-path="url(#brc)"><path d="M26.00 24.50 C27.83 23.17 34.00 19.42 36.00 20.00 C38.00 20.58 38.00 25.50 38.00 28.00 C38.00 30.50 37.33 34.17 36.00 35.00 C34.67 35.83 31.83 34.17 30.00 33.00 C28.17 31.83 25.67 29.42 25.00 28.00 C24.33 26.58 24.17 25.83 26.00 24.50Z" fill="#a7dcbc" fill-opacity="0.22"/><path d="M26.00 24.50 C27.83 23.17 34.00 19.42 36.00 20.00 C38.00 20.58 38.00 25.50 38.00 28.00 C38.00 30.50 37.33 34.17 36.00 35.00 C34.67 35.83 31.83 34.17 30.00 33.00 C28.17 31.83 25.67 29.42 25.00 28.00 C24.33 26.58 24.17 25.83 26.00 24.50Z" fill="url(#spk)" fill-opacity="0.5"/></g>
<g clip-path="url(#cb6)"><g filter="url(#soft2)">
<rect x="25" y="5" width="42" height="58" fill="#96d4c2"/>
<path d="M36.00 14.00 C37.50 12.17 40.67 13.33 42.00 15.00 C43.33 16.67 44.67 21.50 44.00 24.00 C43.33 26.50 39.83 29.67 38.00 30.00 C36.17 30.33 33.33 28.67 33.00 26.00 C32.67 23.33 34.50 15.83 36.00 14.00Z" fill="#88d0a8" fill-opacity="1"/>
<path d="M49.00 26.00 C50.50 25.00 54.83 25.83 57.00 27.00 C59.17 28.17 61.33 30.83 62.00 33.00 C62.67 35.17 62.67 38.83 61.00 40.00 C59.33 41.17 54.17 41.17 52.00 40.00 C49.83 38.83 48.50 35.33 48.00 33.00 C47.50 30.67 47.50 27.00 49.00 26.00Z" fill="#92cb74" fill-opacity="1"/>
<path d="M45.00 45.00 C47.17 42.67 54.00 43.50 57.00 44.00 C60.00 44.50 62.50 45.83 63.00 48.00 C63.50 50.17 63.17 55.33 60.00 57.00 C56.83 58.67 46.50 60.00 44.00 58.00 C41.50 56.00 42.83 47.33 45.00 45.00Z" fill="#8cabdd" fill-opacity="1"/>
<path d="M28.00 50.00 C29.17 48.08 33.17 48.00 35.00 48.50 C36.83 49.00 38.50 51.08 39.00 53.00 C39.50 54.92 39.83 58.83 38.00 60.00 C36.17 61.17 29.67 61.67 28.00 60.00 C26.33 58.33 26.83 51.92 28.00 50.00Z" fill="#dc90b0" fill-opacity="1"/>
<path d="M55.50 35.50 C56.50 33.25 60.50 33.42 62.00 34.50 C63.50 35.58 64.50 39.58 64.50 42.00 C64.50 44.42 63.42 48.00 62.00 49.00 C60.58 50.00 57.08 50.25 56.00 48.00 C54.92 45.75 54.50 37.75 55.50 35.50Z" fill="#e6aa44" fill-opacity="1"/>
<path d="M45.50 14.50 C46.00 12.50 47.00 9.75 48.00 9.00 C49.00 8.25 50.58 9.08 51.50 10.00 C52.42 10.92 53.20 12.50 53.50 14.50 C53.80 16.50 54.13 20.33 53.30 22.00 C52.47 23.67 49.88 24.67 48.50 24.50 C47.12 24.33 45.50 22.67 45.00 21.00 C44.50 19.33 45.00 16.50 45.50 14.50Z" fill="#7ccadc" fill-opacity="1"/>
</g>
<rect x="25" y="5" width="42" height="58" fill="url(#spk)" fill-opacity="0.4"/>
</g>
</g>
</g>
<g transform="translate(165 99.8)">
<defs><linearGradient id="cg7" gradientUnits="userSpaceOnUse" x1="4" y1="22" x2="40" y2="14"><stop offset="0" stop-color="#b086cc"/><stop offset="0.26" stop-color="#b68ac6"/><stop offset="0.36" stop-color="#ea8a80"/><stop offset="0.8" stop-color="#e89288"/><stop offset="1" stop-color="#cbcbcb"/></linearGradient><clipPath id="cc7"><path d="M8.10 39.90 C7.43 39.07 5.65 34.93 5.00 33.00 C4.35 31.07 4.20 29.97 4.20 28.30 C4.20 26.63 4.65 24.55 5.00 23.00 C5.35 21.45 5.02 20.93 6.30 19.00 C7.58 17.07 10.20 13.53 12.70 11.40 C15.20 9.27 18.65 7.38 21.30 6.20 C23.95 5.02 26.15 4.25 28.60 4.30 C31.05 4.35 34.13 5.30 36.00 6.50 C37.87 7.70 39.08 9.75 39.80 11.50 C40.52 13.25 41.18 15.22 40.30 17.00 C39.42 18.78 36.72 20.82 34.50 22.20 C32.28 23.58 29.58 24.30 27.00 25.30 C24.42 26.30 21.48 26.90 19.00 28.20 C16.52 29.50 13.77 31.47 12.10 33.10 C10.43 34.73 9.67 36.87 9.00 38.00 C8.33 39.13 8.77 40.73 8.10 39.90Z"/></clipPath><clipPath id="cb7"><path d="M45.50 14.50 C46.33 13.58 47.00 9.75 48.00 9.00 C49.00 8.25 50.53 9.08 51.50 10.00 C52.47 10.92 53.42 12.42 53.80 14.50 C54.18 16.58 53.27 20.50 53.80 22.50 C54.33 24.50 56.00 25.17 57.00 26.50 C58.00 27.83 59.13 28.72 59.80 30.50 C60.47 32.28 60.90 34.53 61.00 37.20 C61.10 39.87 60.90 43.83 60.40 46.50 C59.90 49.17 59.48 51.62 58.00 53.20 C56.52 54.78 54.18 55.28 51.50 56.00 C48.82 56.72 44.90 57.20 41.90 57.50 C38.90 57.80 35.33 58.37 33.50 57.80 C31.67 57.23 30.83 55.45 30.90 54.10 C30.97 52.75 33.05 51.62 33.90 49.70 C34.75 47.78 35.73 44.88 36.00 42.60 C36.27 40.32 35.33 38.10 35.50 36.00 C35.67 33.90 36.67 31.75 37.00 30.00 C37.33 28.25 37.08 27.17 37.50 25.50 C37.92 23.83 38.58 21.83 39.50 20.00 C40.42 18.17 42.00 15.42 43.00 14.50 C44.00 13.58 44.67 15.42 45.50 14.50Z"/></clipPath></defs>
<g filter="url(#edge)">
<path d="M8.10 39.90 C7.43 39.07 5.65 34.93 5.00 33.00 C4.35 31.07 4.20 29.97 4.20 28.30 C4.20 26.63 4.65 24.55 5.00 23.00 C5.35 21.45 5.02 20.93 6.30 19.00 C7.58 17.07 10.20 13.53 12.70 11.40 C15.20 9.27 18.65 7.38 21.30 6.20 C23.95 5.02 26.15 4.25 28.60 4.30 C31.05 4.35 34.13 5.30 36.00 6.50 C37.87 7.70 39.08 9.75 39.80 11.50 C40.52 13.25 41.18 15.22 40.30 17.00 C39.42 18.78 36.72 20.82 34.50 22.20 C32.28 23.58 29.58 24.30 27.00 25.30 C24.42 26.30 21.48 26.90 19.00 28.20 C16.52 29.50 13.77 31.47 12.10 33.10 C10.43 34.73 9.67 36.87 9.00 38.00 C8.33 39.13 8.77 40.73 8.10 39.90Z" fill="none" stroke="url(#cg7)" stroke-width="1.8" stroke-opacity="0.45"/>
<g clip-path="url(#cc7)"><rect x="0" y="0" width="45" height="45" fill="url(#cg7)"/><rect x="0" y="0" width="45" height="45" fill="url(#spk)" fill-opacity="0.3"/></g>
<g clip-path="url(#brc)"><path d="M26.00 24.50 C27.83 23.17 34.00 19.42 36.00 20.00 C38.00 20.58 38.00 25.50 38.00 28.00 C38.00 30.50 37.33 34.17 36.00 35.00 C34.67 35.83 31.83 34.17 30.00 33.00 C28.17 31.83 25.67 29.42 25.00 28.00 C24.33 26.58 24.17 25.83 26.00 24.50Z" fill="#d6d6d6" fill-opacity="0.22"/><path d="M26.00 24.50 C27.83 23.17 34.00 19.42 36.00 20.00 C38.00 20.58 38.00 25.50 38.00 28.00 C38.00 30.50 37.33 34.17 36.00 35.00 C34.67 35.83 31.83 34.17 30.00 33.00 C28.17 31.83 25.67 29.42 25.00 28.00 C24.33 26.58 24.17 25.83 26.00 24.50Z" fill="url(#spk)" fill-opacity="0.5"/></g>
<g clip-path="url(#cb7)"><g filter="url(#soft2)">
<rect x="25" y="5" width="42" height="58" fill="#cfcfcf"/>
</g>
<rect x="25" y="5" width="42" height="58" fill="url(#spk)" fill-opacity="0.45"/>
</g>
</g>
<path d="M43.00 13.10 C42.85 12.14 47.33 7.72 48.30 7.80 C49.27 7.88 54.45 13.04 54.60 14.00 C54.75 14.96 51.07 19.38 50.10 19.30 C49.13 19.23 43.15 14.06 43.00 13.10Z" fill="#8bcbdd" filter="url(#edge)"/>
<path d="M43.00 13.10 C42.85 12.14 47.33 7.72 48.30 7.80 C49.27 7.88 54.45 13.04 54.60 14.00 C54.75 14.96 51.07 19.38 50.10 19.30 C49.13 19.23 43.15 14.06 43.00 13.10Z" fill="url(#spk)" fill-opacity="0.3"/>
<ellipse cx="45.3" cy="29.3" rx="6.2" ry="14.7" transform="rotate(-24 45.3 29.3)" fill="#d3dab6" filter="url(#edge)"/>
<ellipse cx="45.3" cy="29.3" rx="6.2" ry="14.7" transform="rotate(-24 45.3 29.3)" fill="url(#spk)" fill-opacity="0.25"/>
<ellipse cx="45.3" cy="29.3" rx="6.2" ry="14.7" transform="rotate(-24 45.3 29.3)" fill="none" stroke="#1a1a1a" stroke-width="1.15" stroke-dasharray="2.3 1.4"/>
</g>
<g transform="translate(240 99.8)">
<defs><linearGradient id="cg8" gradientUnits="userSpaceOnUse" x1="4" y1="22" x2="40" y2="14"><stop offset="0" stop-color="#ae84cc"/><stop offset="0.26" stop-color="#b488c6"/><stop offset="0.36" stop-color="#ec8276"/><stop offset="0.8" stop-color="#e98f82"/><stop offset="1" stop-color="#acd6c6"/></linearGradient><clipPath id="cc8"><path d="M8.10 39.90 C7.43 39.07 5.65 34.93 5.00 33.00 C4.35 31.07 4.20 29.97 4.20 28.30 C4.20 26.63 4.65 24.55 5.00 23.00 C5.35 21.45 5.02 20.93 6.30 19.00 C7.58 17.07 10.20 13.53 12.70 11.40 C15.20 9.27 18.65 7.38 21.30 6.20 C23.95 5.02 26.15 4.25 28.60 4.30 C31.05 4.35 34.13 5.30 36.00 6.50 C37.87 7.70 39.08 9.75 39.80 11.50 C40.52 13.25 41.18 15.22 40.30 17.00 C39.42 18.78 36.72 20.82 34.50 22.20 C32.28 23.58 29.58 24.30 27.00 25.30 C24.42 26.30 21.48 26.90 19.00 28.20 C16.52 29.50 13.77 31.47 12.10 33.10 C10.43 34.73 9.67 36.87 9.00 38.00 C8.33 39.13 8.77 40.73 8.10 39.90Z"/></clipPath><clipPath id="cb8"><path d="M45.50 14.50 C46.33 13.58 47.00 9.75 48.00 9.00 C49.00 8.25 50.53 9.08 51.50 10.00 C52.47 10.92 53.42 12.42 53.80 14.50 C54.18 16.58 53.27 20.50 53.80 22.50 C54.33 24.50 56.00 25.17 57.00 26.50 C58.00 27.83 59.13 28.72 59.80 30.50 C60.47 32.28 60.90 34.53 61.00 37.20 C61.10 39.87 60.90 43.83 60.40 46.50 C59.90 49.17 59.48 51.62 58.00 53.20 C56.52 54.78 54.18 55.28 51.50 56.00 C48.82 56.72 44.90 57.20 41.90 57.50 C38.90 57.80 35.33 58.37 33.50 57.80 C31.67 57.23 30.83 55.45 30.90 54.10 C30.97 52.75 33.05 51.62 33.90 49.70 C34.75 47.78 35.73 44.88 36.00 42.60 C36.27 40.32 35.33 38.10 35.50 36.00 C35.67 33.90 36.67 31.75 37.00 30.00 C37.33 28.25 37.08 27.17 37.50 25.50 C37.92 23.83 38.58 21.83 39.50 20.00 C40.42 18.17 42.00 15.42 43.00 14.50 C44.00 13.58 44.67 15.42 45.50 14.50Z"/></clipPath></defs>
<g filter="url(#edge)">
<path d="M8.10 39.90 C7.43 39.07 5.65 34.93 5.00 33.00 C4.35 31.07 4.20 29.97 4.20 28.30 C4.20 26.63 4.65 24.55 5.00 23.00 C5.35 21.45 5.02 20.93 6.30 19.00 C7.58 17.07 10.20 13.53 12.70 11.40 C15.20 9.27 18.65 7.38 21.30 6.20 C23.95 5.02 26.15 4.25 28.60 4.30 C31.05 4.35 34.13 5.30 36.00 6.50 C37.87 7.70 39.08 9.75 39.80 11.50 C40.52 13.25 41.18 15.22 40.30 17.00 C39.42 18.78 36.72 20.82 34.50 22.20 C32.28 23.58 29.58 24.30 27.00 25.30 C24.42 26.30 21.48 26.90 19.00 28.20 C16.52 29.50 13.77 31.47 12.10 33.10 C10.43 34.73 9.67 36.87 9.00 38.00 C8.33 39.13 8.77 40.73 8.10 39.90Z" fill="none" stroke="url(#cg8)" stroke-width="1.8" stroke-opacity="0.45"/>
<g clip-path="url(#cc8)"><rect x="0" y="0" width="45" height="45" fill="url(#cg8)"/><rect x="0" y="0" width="45" height="45" fill="url(#spk)" fill-opacity="0.3"/></g>
<g clip-path="url(#brc)"><path d="M26.00 24.50 C27.83 23.17 34.00 19.42 36.00 20.00 C38.00 20.58 38.00 25.50 38.00 28.00 C38.00 30.50 37.33 34.17 36.00 35.00 C34.67 35.83 31.83 34.17 30.00 33.00 C28.17 31.83 25.67 29.42 25.00 28.00 C24.33 26.58 24.17 25.83 26.00 24.50Z" fill="#c8dccf" fill-opacity="0.22"/><path d="M26.00 24.50 C27.83 23.17 34.00 19.42 36.00 20.00 C38.00 20.58 38.00 25.50 38.00 28.00 C38.00 30.50 37.33 34.17 36.00 35.00 C34.67 35.83 31.83 34.17 30.00 33.00 C28.17 31.83 25.67 29.42 25.00 28.00 C24.33 26.58 24.17 25.83 26.00 24.50Z" fill="url(#spk)" fill-opacity="0.5"/></g>
<g clip-path="url(#cb8)"><g filter="url(#soft2)">
<rect x="25" y="5" width="42" height="58" fill="#bcd8d1"/>
<path d="M36.00 38.00 C37.67 35.83 43.83 36.00 46.00 37.00 C48.17 38.00 49.17 41.83 49.00 44.00 C48.83 46.17 47.17 49.00 45.00 50.00 C42.83 51.00 37.50 52.00 36.00 50.00 C34.50 48.00 34.33 40.17 36.00 38.00Z" fill="#92d2c2" fill-opacity="0.9"/>
<path d="M45.00 45.00 C47.17 42.67 54.00 43.50 57.00 44.00 C60.00 44.50 62.50 45.83 63.00 48.00 C63.50 50.17 63.17 55.33 60.00 57.00 C56.83 58.67 46.50 60.00 44.00 58.00 C41.50 56.00 42.83 47.33 45.00 45.00Z" fill="#c4c8dc" fill-opacity="0.8"/>
<path d="M28.00 50.00 C29.17 48.08 33.17 48.00 35.00 48.50 C36.83 49.00 38.50 51.08 39.00 53.00 C39.50 54.92 39.83 58.83 38.00 60.00 C36.17 61.17 29.67 61.67 28.00 60.00 C26.33 58.33 26.83 51.92 28.00 50.00Z" fill="#dcb4c4" fill-opacity="0.8"/>
</g>
<rect x="25" y="5" width="42" height="58" fill="url(#spk)" fill-opacity="0.35"/>
</g>
</g>
<path d="M43.00 13.10 C42.85 12.14 47.33 7.72 48.30 7.80 C49.27 7.88 54.45 13.04 54.60 14.00 C54.75 14.96 51.07 19.38 50.10 19.30 C49.13 19.23 43.15 14.06 43.00 13.10Z" fill="#4fbde2" filter="url(#edge)"/>
<path d="M43.00 13.10 C42.85 12.14 47.33 7.72 48.30 7.80 C49.27 7.88 54.45 13.04 54.60 14.00 C54.75 14.96 51.07 19.38 50.10 19.30 C49.13 19.23 43.15 14.06 43.00 13.10Z" fill="url(#spk)" fill-opacity="0.3"/>
<ellipse cx="45.3" cy="29.3" rx="6.2" ry="14.7" transform="rotate(-24 45.3 29.3)" fill="#acd262" filter="url(#edge)"/>
<ellipse cx="45.3" cy="29.3" rx="6.2" ry="14.7" transform="rotate(-24 45.3 29.3)" fill="url(#spk)" fill-opacity="0.25"/>
<ellipse cx="45.3" cy="29.3" rx="6.2" ry="14.7" transform="rotate(-24 45.3 29.3)" fill="none" stroke="#1a1a1a" stroke-width="1.15" stroke-dasharray="2.3 1.4"/>
</g>
<text x="18.9" y="28.7" font-size="10.5" fill="#000" font-weight="bold" textLength="13.2" lengthAdjust="spacingAndGlyphs">+/-</text>
<text x="19.2" y="103.3" font-size="10.5" fill="#000" font-weight="bold" textLength="10.6" lengthAdjust="spacingAndGlyphs">-/-</text>
<text x="60.8" y="30.8" font-size="7.6" fill="#1a1a1a" font-weight="bold">Mk</text>
<text x="72.5" y="48.5" font-size="7.6" fill="#1a1a1a" font-weight="bold">MPP</text>
<text x="76.7" y="76.8" font-size="7.6" fill="#1a1a1a" font-weight="bold">HSC</text>
<text x="43.3" y="90.9" font-size="7.6" fill="#1a1a1a" font-weight="bold">GMP</text>
<text x="0.9" y="74.3" font-size="7.6" fill="#1a1a1a" font-weight="bold">Erythroid</text>
<text x="43.3" y="39.2" font-size="7.2" fill="#1a1a1a" font-weight="bold" text-anchor="middle">23</text>
<text x="26.8" y="54.2" font-size="7.2" fill="#1a1a1a" font-weight="bold" text-anchor="middle">7</text>
<text x="65.5" y="42.6" font-size="7.2" fill="#1a1a1a" font-weight="bold" text-anchor="middle">5</text>
<text x="66.8" y="62.2" font-size="7.2" fill="#1a1a1a" font-weight="bold" text-anchor="middle">16</text>
<text x="76.2" y="68.4" font-size="7.2" fill="#1a1a1a" font-weight="bold" text-anchor="middle">14</text>
<text x="58.4" y="70.2" font-size="7.2" fill="#1a1a1a" font-weight="bold" text-anchor="middle">24</text>
<text x="67.3" y="77.3" font-size="7.2" fill="#1a1a1a" font-weight="bold" text-anchor="middle">18</text>
<text x="50" y="81.8" font-size="7.2" fill="#1a1a1a" font-weight="bold" text-anchor="middle">4</text>
<text x="297.6" y="46.8" font-size="9.4" fill="#000" font-weight="bold" textLength="9.6" lengthAdjust="spacingAndGlyphs">19</text>
<line x1="290" y1="50.2" x2="297.6" y2="46.4" stroke="#111" stroke-width="1.2" />
<path d="M16.4 98 V159.4 H76.5" fill="none" stroke="#222" stroke-width="1.1"/>
<text x="21.3" y="167.4" font-size="6.4" fill="#333" stroke="#333" stroke-width="0.12" textLength="21.4" lengthAdjust="spacingAndGlyphs">UMAP-1</text>
<text transform="translate(13.2 141.6) rotate(-90)" font-size="6.4" fill="#333" text-anchor="middle" textLength="21.4" lengthAdjust="spacingAndGlyphs" font-family='"Liberation Sans", sans-serif' stroke="#333" stroke-width="0.12">UMAP-2</text>
<path d="M369.6 32.6 V113.8 H447.3" fill="none" stroke="#231f20" stroke-width="1.1"/>
<line x1="367.40000000000003" y1="113.8" x2="369.6" y2="113.8" stroke="#231f20" stroke-width="1" />
<text x="363.8" y="116.1" font-size="6.6" fill="#231f20" stroke="#231f20" stroke-width="0.12" text-anchor="end">0</text>
<line x1="367.40000000000003" y1="87.8" x2="369.6" y2="87.8" stroke="#231f20" stroke-width="1" />
<text x="363.8" y="90.1" font-size="6.6" fill="#231f20" stroke="#231f20" stroke-width="0.12" text-anchor="end">10</text>
<line x1="367.40000000000003" y1="61.8" x2="369.6" y2="61.8" stroke="#231f20" stroke-width="1" />
<text x="363.8" y="64.1" font-size="6.6" fill="#231f20" stroke="#231f20" stroke-width="0.12" text-anchor="end">20</text>
<line x1="367.40000000000003" y1="35.8" x2="369.6" y2="35.8" stroke="#231f20" stroke-width="1" />
<text x="363.8" y="38.099999999999994" font-size="6.6" fill="#231f20" stroke="#231f20" stroke-width="0.12" text-anchor="end">30</text>
<rect x="372.90" y="111.98" width="6.30" height="1.82" fill="#c8102e"/>
<rect x="379.20" y="111.46" width="6.30" height="2.34" fill="#174f8e"/>
<line x1="379.2" y1="113.8" x2="379.2" y2="116.0" stroke="#231f20" stroke-width="1" />
<rect x="392.90" y="113.02" width="6.30" height="0.78" fill="#c8102e"/>
<rect x="399.20" y="113.02" width="6.30" height="0.78" fill="#174f8e"/>
<line x1="399.2" y1="113.8" x2="399.2" y2="116.0" stroke="#231f20" stroke-width="1" />
<rect x="412.50" y="65.70" width="6.30" height="48.10" fill="#c8102e"/>
<rect x="418.80" y="94.56" width="6.30" height="19.24" fill="#174f8e"/>
<line x1="418.8" y1="113.8" x2="418.8" y2="116.0" stroke="#231f20" stroke-width="1" />
<rect x="431.80" y="42.56" width="6.30" height="71.24" fill="#c8102e"/>
<rect x="438.10" y="53.48" width="6.30" height="60.32" fill="#174f8e"/>
<line x1="438.1" y1="113.8" x2="438.1" y2="116.0" stroke="#231f20" stroke-width="1" />
<text x="376" y="34.6" font-size="6.6" fill="#c8102e" stroke="#c8102e" stroke-width="0.12" font-style="italic" textLength="30" lengthAdjust="spacingAndGlyphs">Ifnar1 +/–</text>
<text x="376" y="46" font-size="6.6" fill="#174f8e" stroke="#174f8e" stroke-width="0.12" font-style="italic" textLength="28" lengthAdjust="spacingAndGlyphs">Ifnar1 –/–</text>
<text x="418.85" y="55.599999999999994" font-size="10.8" fill="#231f20" stroke="#231f20" stroke-width="0.12" text-anchor="middle" textLength="11.5" lengthAdjust="spacingAndGlyphs">***</text>
<text x="437.3" y="38.4" font-size="10.8" fill="#231f20" stroke="#231f20" stroke-width="0.12" text-anchor="middle" textLength="11.6" lengthAdjust="spacingAndGlyphs">***</text>
<text transform="translate(351 72.9) rotate(-90)" font-size="8.4" fill="#231f20" text-anchor="middle" textLength="44.4" lengthAdjust="spacingAndGlyphs" font-family='"Liberation Sans", sans-serif' stroke="#231f20" stroke-width="0.12">Cluster 19 (%)</text>
<text transform="translate(383.6 123) rotate(-45)" font-size="6.6" fill="#231f20" text-anchor="end" textLength="24" lengthAdjust="spacingAndGlyphs" font-family='"Liberation Sans", sans-serif' stroke="#231f20" stroke-width="0.12">Control</text>
<text transform="translate(402.7 123) rotate(-45)" font-size="6.6" fill="#231f20" text-anchor="end" textLength="26" lengthAdjust="spacingAndGlyphs" font-family='"Liberation Sans", sans-serif' stroke="#231f20" stroke-width="0.12">Flt3-ITD</text>
<text transform="translate(422.8 123) rotate(-45)" font-size="6.6" fill="#231f20" text-anchor="end" textLength="24.5" lengthAdjust="spacingAndGlyphs" font-family='"Liberation Sans", sans-serif' stroke="#231f20" stroke-width="0.12">NHD13</text>
<text transform="translate(442.2 123) rotate(-45)" font-size="6.6" fill="#231f20" text-anchor="end" textLength="28.5" lengthAdjust="spacingAndGlyphs" font-family='"Liberation Sans", sans-serif' stroke="#231f20" stroke-width="0.12">Flt3-ITD/</text>
<text transform="translate(447.3 128.2) rotate(-45)" font-size="6.6" fill="#231f20" text-anchor="end" textLength="24" lengthAdjust="spacingAndGlyphs" font-family='"Liberation Sans", sans-serif' stroke="#231f20" stroke-width="0.12">NHD13</text>
<path d="M29.3 214.7 V298.7 H109.3" fill="none" stroke="#231f20" stroke-width="1.1"/>
<line x1="27.1" y1="298.7" x2="29.3" y2="298.7" stroke="#231f20" stroke-width="1" />
<text x="24.1" y="301.09999999999997" font-size="6.8" fill="#231f20" stroke="#231f20" stroke-width="0.12" text-anchor="end">0</text>
<line x1="27.1" y1="278.15" x2="29.3" y2="278.15" stroke="#231f20" stroke-width="1" />
<text x="24.1" y="280.54999999999995" font-size="6.8" fill="#231f20" stroke="#231f20" stroke-width="0.12" text-anchor="end">10</text>
<line x1="27.1" y1="257.59999999999997" x2="29.3" y2="257.59999999999997" stroke="#231f20" stroke-width="1" />
<text x="24.1" y="259.99999999999994" font-size="6.8" fill="#231f20" stroke="#231f20" stroke-width="0.12" text-anchor="end">20</text>
<line x1="27.1" y1="237.04999999999998" x2="29.3" y2="237.04999999999998" stroke="#231f20" stroke-width="1" />
<text x="24.1" y="239.45" font-size="6.8" fill="#231f20" stroke="#231f20" stroke-width="0.12" text-anchor="end">30</text>
<line x1="27.1" y1="216.5" x2="29.3" y2="216.5" stroke="#231f20" stroke-width="1" />
<text x="24.1" y="218.9" font-size="6.8" fill="#231f20" stroke="#231f20" stroke-width="0.12" text-anchor="end">40</text>
<rect x="33.30" y="250.61" width="5.40" height="48.09" fill="#c8102e"/>
<rect x="38.70" y="297.47" width="5.40" height="1.23" fill="#174f8e"/>
<line x1="38.7" y1="298.7" x2="38.7" y2="300.9" stroke="#231f20" stroke-width="1" />
<rect x="49.30" y="276.71" width="5.40" height="21.99" fill="#c8102e"/>
<rect x="54.70" y="289.45" width="5.40" height="9.25" fill="#174f8e"/>
<line x1="54.7" y1="298.7" x2="54.7" y2="300.9" stroke="#231f20" stroke-width="1" />
<rect x="65.30" y="280.00" width="5.40" height="18.70" fill="#c8102e"/>
<rect x="70.70" y="295.41" width="5.40" height="3.29" fill="#174f8e"/>
<line x1="70.7" y1="298.7" x2="70.7" y2="300.9" stroke="#231f20" stroke-width="1" />
<rect x="81.30" y="297.67" width="5.40" height="1.03" fill="#c8102e"/>
<rect x="86.70" y="280.82" width="5.40" height="17.88" fill="#174f8e"/>
<line x1="86.7" y1="298.7" x2="86.7" y2="300.9" stroke="#231f20" stroke-width="1" />
<rect x="97.80" y="293.36" width="5.40" height="5.34" fill="#c8102e"/>
<rect x="103.20" y="265.82" width="5.40" height="32.88" fill="#174f8e"/>
<line x1="103.2" y1="298.7" x2="103.2" y2="300.9" stroke="#231f20" stroke-width="1" />
<text x="41.85" y="233.5" font-size="10.8" fill="#231f20" stroke="#231f20" stroke-width="0.12" text-anchor="middle" textLength="12.3" lengthAdjust="spacingAndGlyphs">***</text>
<text x="56.15" y="243.3" font-size="10.8" fill="#231f20" stroke="#231f20" stroke-width="0.12" text-anchor="middle" textLength="3.3" lengthAdjust="spacingAndGlyphs">*</text>
<text x="72.9" y="243.3" font-size="10.8" fill="#231f20" stroke="#231f20" stroke-width="0.12" text-anchor="middle" textLength="12.2" lengthAdjust="spacingAndGlyphs">***</text>
<text x="90.9" y="249.0" font-size="10.8" fill="#231f20" stroke="#231f20" stroke-width="0.12" text-anchor="middle" textLength="12.2" lengthAdjust="spacingAndGlyphs">***</text>
<text x="104.75" y="255.6" font-size="10.8" fill="#231f20" stroke="#231f20" stroke-width="0.12" text-anchor="middle" textLength="12.3" lengthAdjust="spacingAndGlyphs">***</text>
<text x="91.2" y="219.2" font-size="6.4" fill="#c8102e" stroke="#c8102e" stroke-width="0.12" font-style="italic" textLength="29.3" lengthAdjust="spacingAndGlyphs">Ifnar1 +/–</text>
<text x="91.2" y="230.6" font-size="6.4" fill="#174f8e" stroke="#174f8e" stroke-width="0.12" font-style="italic" textLength="28" lengthAdjust="spacingAndGlyphs">Ifnar1 –/–</text>
<text transform="translate(11.0 255.8) rotate(-90)" font-size="8.4" fill="#231f20" text-anchor="middle" textLength="45.6" lengthAdjust="spacingAndGlyphs" font-family='"Liberation Sans", sans-serif' stroke="#231f20" stroke-width="0.12">Percent of cells</text>
<text transform="translate(42.900000000000006 306.6) rotate(-47)" font-size="7.4" fill="#231f20" text-anchor="end" textLength="18.5" lengthAdjust="spacingAndGlyphs" font-family='"Liberation Sans", sans-serif' stroke="#231f20" stroke-width="0.12">MPP2</text>
<text transform="translate(58.900000000000006 306.6) rotate(-47)" font-size="7.4" fill="#231f20" text-anchor="end" textLength="18.5" lengthAdjust="spacingAndGlyphs" font-family='"Liberation Sans", sans-serif' stroke="#231f20" stroke-width="0.12">MPP3</text>
<text transform="translate(74.9 306.6) rotate(-47)" font-size="7.4" fill="#231f20" text-anchor="end" textLength="18.5" lengthAdjust="spacingAndGlyphs" font-family='"Liberation Sans", sans-serif' stroke="#231f20" stroke-width="0.12">MPP4</text>
<text transform="translate(90.9 306.6) rotate(-47)" font-size="7.4" fill="#231f20" text-anchor="end" textLength="16" lengthAdjust="spacingAndGlyphs" font-family='"Liberation Sans", sans-serif' stroke="#231f20" stroke-width="0.12">pGM</text>
<text transform="translate(107.4 306.6) rotate(-47)" font-size="7.4" fill="#231f20" text-anchor="end" textLength="18.5" lengthAdjust="spacingAndGlyphs" font-family='"Liberation Sans", sans-serif' stroke="#231f20" stroke-width="0.12">GMP</text>
<text x="42.6" y="195.1" font-size="10.2" fill="#2a2a2a" stroke="#2a2a2a" stroke-width="0.12" textLength="55.8" lengthAdjust="spacingAndGlyphs">NHD13 (c19)</text>
<path d="M184 214.7 V298.7 H265.3" fill="none" stroke="#231f20" stroke-width="1.1"/>
<line x1="181.8" y1="298.7" x2="184" y2="298.7" stroke="#231f20" stroke-width="1" />
<text x="178.8" y="301.09999999999997" font-size="6.8" fill="#231f20" stroke="#231f20" stroke-width="0.12" text-anchor="end">0</text>
<line x1="181.8" y1="278.15" x2="184" y2="278.15" stroke="#231f20" stroke-width="1" />
<text x="178.8" y="280.54999999999995" font-size="6.8" fill="#231f20" stroke="#231f20" stroke-width="0.12" text-anchor="end">10</text>
<line x1="181.8" y1="257.59999999999997" x2="184" y2="257.59999999999997" stroke="#231f20" stroke-width="1" />
<text x="178.8" y="259.99999999999994" font-size="6.8" fill="#231f20" stroke="#231f20" stroke-width="0.12" text-anchor="end">20</text>
<line x1="181.8" y1="237.04999999999998" x2="184" y2="237.04999999999998" stroke="#231f20" stroke-width="1" />
<text x="178.8" y="239.45" font-size="6.8" fill="#231f20" stroke="#231f20" stroke-width="0.12" text-anchor="end">30</text>
<line x1="181.8" y1="216.5" x2="184" y2="216.5" stroke="#231f20" stroke-width="1" />
<text x="178.8" y="218.9" font-size="6.8" fill="#231f20" stroke="#231f20" stroke-width="0.12" text-anchor="end">40</text>
<rect x="186.60" y="224.10" width="5.40" height="74.60" fill="#c8102e"/>
<rect x="192.00" y="293.36" width="5.40" height="5.34" fill="#174f8e"/>
<line x1="192" y1="298.7" x2="192" y2="300.9" stroke="#231f20" stroke-width="1" />
<rect x="202.60" y="249.38" width="5.40" height="49.32" fill="#c8102e"/>
<rect x="208.00" y="292.53" width="5.40" height="6.17" fill="#174f8e"/>
<line x1="208" y1="298.7" x2="208" y2="300.9" stroke="#231f20" stroke-width="1" />
<rect x="218.60" y="280.00" width="5.40" height="18.70" fill="#c8102e"/>
<rect x="224.00" y="288.01" width="5.40" height="10.69" fill="#174f8e"/>
<line x1="224" y1="298.7" x2="224" y2="300.9" stroke="#231f20" stroke-width="1" />
<rect x="240.50" y="272.60" width="5.40" height="26.10" fill="#174f8e"/>
<line x1="240.5" y1="298.7" x2="240.5" y2="300.9" stroke="#231f20" stroke-width="1" />
<rect x="251.90" y="296.44" width="5.40" height="2.26" fill="#c8102e"/>
<rect x="257.30" y="275.27" width="5.40" height="23.43" fill="#174f8e"/>
<line x1="257.3" y1="298.7" x2="257.3" y2="300.9" stroke="#231f20" stroke-width="1" />
<text x="192.95" y="219.0" font-size="10.8" fill="#231f20" stroke="#231f20" stroke-width="0.12" text-anchor="middle" textLength="12.5" lengthAdjust="spacingAndGlyphs">***</text>
<text x="211.3" y="233.7" font-size="10.8" fill="#231f20" stroke="#231f20" stroke-width="0.12" text-anchor="middle" textLength="12" lengthAdjust="spacingAndGlyphs">***</text>
<text x="225.2" y="249.0" font-size="10.8" fill="#231f20" stroke="#231f20" stroke-width="0.12" text-anchor="middle" textLength="12" lengthAdjust="spacingAndGlyphs">***</text>
<text x="241.2" y="255.0" font-size="10.8" fill="#231f20" stroke="#231f20" stroke-width="0.12" text-anchor="middle" textLength="12" lengthAdjust="spacingAndGlyphs">***</text>
<text x="258.65" y="261.7" font-size="10.8" fill="#231f20" stroke="#231f20" stroke-width="0.12" text-anchor="middle" textLength="13.3" lengthAdjust="spacingAndGlyphs">***</text>
<text x="242.7" y="219.2" font-size="6.4" fill="#c8102e" stroke="#c8102e" stroke-width="0.12" font-style="italic" textLength="29.3" lengthAdjust="spacingAndGlyphs">Ifnar1 +/–</text>
<text x="242.7" y="230.6" font-size="6.4" fill="#174f8e" stroke="#174f8e" stroke-width="0.12" font-style="italic" textLength="28" lengthAdjust="spacingAndGlyphs">Ifnar1 –/–</text>
<text transform="translate(165.7 255.8) rotate(-90)" font-size="8.4" fill="#231f20" text-anchor="middle" textLength="45.6" lengthAdjust="spacingAndGlyphs" font-family='"Liberation Sans", sans-serif' stroke="#231f20" stroke-width="0.12">Percent of cells</text>
<text transform="translate(196.2 306.6) rotate(-47)" font-size="7.4" fill="#231f20" text-anchor="end" textLength="18.5" lengthAdjust="spacingAndGlyphs" font-family='"Liberation Sans", sans-serif' stroke="#231f20" stroke-width="0.12">MPP2</text>
<text transform="translate(212.2 306.6) rotate(-47)" font-size="7.4" fill="#231f20" text-anchor="end" textLength="18.5" lengthAdjust="spacingAndGlyphs" font-family='"Liberation Sans", sans-serif' stroke="#231f20" stroke-width="0.12">MPP3</text>
<text transform="translate(228.2 306.6) rotate(-47)" font-size="7.4" fill="#231f20" text-anchor="end" textLength="18.5" lengthAdjust="spacingAndGlyphs" font-family='"Liberation Sans", sans-serif' stroke="#231f20" stroke-width="0.12">MPP4</text>
<text transform="translate(244.7 306.6) rotate(-47)" font-size="7.4" fill="#231f20" text-anchor="end" textLength="16" lengthAdjust="spacingAndGlyphs" font-family='"Liberation Sans", sans-serif' stroke="#231f20" stroke-width="0.12">pGM</text>
<text transform="translate(261.5 306.6) rotate(-47)" font-size="7.4" fill="#231f20" text-anchor="end" textLength="18.5" lengthAdjust="spacingAndGlyphs" font-family='"Liberation Sans", sans-serif' stroke="#231f20" stroke-width="0.12">GMP</text>
<text x="177.2" y="195.1" font-size="10.2" fill="#2a2a2a" stroke="#2a2a2a" stroke-width="0.12" textLength="96.5" lengthAdjust="spacingAndGlyphs">Flt3-ITD/NHD13 (c19)</text>
<linearGradient id="vgr214" gradientUnits="userSpaceOnUse" x1="0" y1="214.5" x2="0" y2="295"><stop offset="0" stop-color="#e3131d" stop-opacity="0.35"/><stop offset="0.3" stop-color="#e3131d"/><stop offset="1" stop-color="#e3131d"/></linearGradient>
<path d="M326.90 214.50 L326.55 220.30 L325.80 226.10 L323.38 236.70 L321.07 245.10 L321.07 253.50 L322.28 264.10 L324.15 274.60 L325.47 285.20 L326.13 293.50 L326.13 295.00 L327.67 295.00 L327.67 293.50 L328.33 285.20 L329.65 274.60 L331.52 264.10 L332.73 253.50 L332.73 245.10 L330.42 236.70 L328.00 226.10 L327.25 220.30Z" fill="url(#vgr214)" stroke="url(#vgr214)" stroke-width="0.5" stroke-linejoin="round"/>
<linearGradient id="vgb225" gradientUnits="userSpaceOnUse" x1="0" y1="225.0" x2="0" y2="295"><stop offset="0" stop-color="#2b9fd6" stop-opacity="0.35"/><stop offset="0.3" stop-color="#2b9fd6"/><stop offset="1" stop-color="#2b9fd6"/></linearGradient>
<path d="M340.20 225.00 L339.85 230.85 L338.77 236.70 L336.02 247.20 L333.93 257.80 L335.14 268.30 L337.45 278.90 L338.77 287.30 L338.33 292.00 L334.15 294.60 L334.15 295.00 L346.25 295.00 L346.25 294.60 L342.07 292.00 L341.63 287.30 L342.95 278.90 L345.26 268.30 L346.47 257.80 L344.38 247.20 L341.63 236.70 L340.55 230.85Z" fill="url(#vgb225)" stroke="url(#vgb225)" stroke-width="0.5" stroke-linejoin="round"/>
<linearGradient id="vgr214" gradientUnits="userSpaceOnUse" x1="0" y1="214.5" x2="0" y2="295"><stop offset="0" stop-color="#e3131d" stop-opacity="0.35"/><stop offset="0.3" stop-color="#e3131d"/><stop offset="1" stop-color="#e3131d"/></linearGradient>
<path d="M359.20 214.50 L358.85 222.40 L357.77 230.30 L355.68 243.00 L353.59 257.80 L353.59 268.30 L355.24 278.90 L356.89 287.30 L355.90 291.50 L354.91 294.60 L354.91 295.00 L363.49 295.00 L363.49 294.60 L362.50 291.50 L361.51 287.30 L363.16 278.90 L364.81 268.30 L364.81 257.80 L362.72 243.00 L360.63 230.30 L359.55 222.40Z" fill="url(#vgr214)" stroke="url(#vgr214)" stroke-width="0.5" stroke-linejoin="round"/>
<linearGradient id="vgb218" gradientUnits="userSpaceOnUse" x1="0" y1="218.7" x2="0" y2="295"><stop offset="0" stop-color="#2b9fd6" stop-opacity="0.35"/><stop offset="0.3" stop-color="#2b9fd6"/><stop offset="1" stop-color="#2b9fd6"/></linearGradient>
<path d="M371.80 218.70 L371.45 227.70 L370.70 236.70 L369.49 251.40 L367.62 264.10 L366.74 274.60 L368.28 283.10 L369.05 288.40 L367.18 292.60 L365.86 294.60 L365.86 295.00 L377.74 295.00 L377.74 294.60 L376.42 292.60 L374.55 288.40 L375.32 283.10 L376.86 274.60 L375.98 264.10 L374.11 251.40 L372.90 236.70 L372.15 227.70Z" fill="url(#vgb218)" stroke="url(#vgb218)" stroke-width="0.5" stroke-linejoin="round"/>
<linearGradient id="vgr214" gradientUnits="userSpaceOnUse" x1="0" y1="214.5" x2="0" y2="295"><stop offset="0" stop-color="#e3131d" stop-opacity="0.35"/><stop offset="0.3" stop-color="#e3131d"/><stop offset="1" stop-color="#e3131d"/></linearGradient>
<path d="M390.60 214.50 L390.25 220.30 L389.17 226.10 L386.42 236.70 L384.77 247.20 L384.33 257.80 L385.54 268.30 L387.30 278.90 L389.17 289.40 L387.85 294.60 L387.85 295.00 L393.35 295.00 L393.35 294.60 L392.03 289.40 L393.90 278.90 L395.66 268.30 L396.87 257.80 L396.43 247.20 L394.78 236.70 L392.03 226.10 L390.95 220.30Z" fill="url(#vgr214)" stroke="url(#vgr214)" stroke-width="0.5" stroke-linejoin="round"/>
<linearGradient id="vgb225" gradientUnits="userSpaceOnUse" x1="0" y1="225.0" x2="0" y2="295"><stop offset="0" stop-color="#2b9fd6" stop-opacity="0.35"/><stop offset="0.3" stop-color="#2b9fd6"/><stop offset="1" stop-color="#2b9fd6"/></linearGradient>
<path d="M403.60 225.00 L403.25 230.85 L401.95 236.70 L399.42 247.20 L397.77 257.80 L398.54 268.30 L400.30 278.90 L402.50 289.40 L398.65 294.60 L398.65 295.00 L408.55 295.00 L408.55 294.60 L404.70 289.40 L406.90 278.90 L408.66 268.30 L409.43 257.80 L407.78 247.20 L405.25 236.70 L403.95 230.85Z" fill="url(#vgb225)" stroke="url(#vgb225)" stroke-width="0.5" stroke-linejoin="round"/>
<linearGradient id="vgr214" gradientUnits="userSpaceOnUse" x1="0" y1="214.5" x2="0" y2="295"><stop offset="0" stop-color="#e3131d" stop-opacity="0.35"/><stop offset="0.3" stop-color="#e3131d"/><stop offset="1" stop-color="#e3131d"/></linearGradient>
<path d="M422.20 214.50 L421.85 223.45 L421.65 232.40 L420.33 243.00 L418.24 253.50 L417.14 262.00 L417.58 270.40 L419.45 278.90 L420.33 285.20 L418.90 290.50 L417.14 294.60 L417.14 295.00 L427.26 295.00 L427.26 294.60 L425.50 290.50 L424.07 285.20 L424.95 278.90 L426.82 270.40 L427.26 262.00 L426.16 253.50 L424.07 243.00 L422.75 232.40 L422.55 223.45Z" fill="url(#vgr214)" stroke="url(#vgr214)" stroke-width="0.5" stroke-linejoin="round"/>
<linearGradient id="vgr215" gradientUnits="userSpaceOnUse" x1="0" y1="215.5" x2="0" y2="295"><stop offset="0" stop-color="#e3131d" stop-opacity="0.35"/><stop offset="0.3" stop-color="#e3131d"/><stop offset="1" stop-color="#e3131d"/></linearGradient>
<path d="M454.00 215.50 L453.65 227.80 L452.46 240.10 L450.15 251.80 L448.39 261.10 L448.83 270.50 L450.92 279.90 L451.91 285.70 L450.15 291.50 L448.83 294.60 L448.83 295.00 L459.17 295.00 L459.17 294.60 L457.85 291.50 L456.09 285.70 L457.08 279.90 L459.17 270.50 L459.61 261.10 L457.85 251.80 L455.54 240.10 L454.35 227.80Z" fill="url(#vgr215)" stroke="url(#vgr215)" stroke-width="0.5" stroke-linejoin="round"/>
<path d="M435.3 244 C437 255 439 270 438.5 290 L432 290 C431.5 270 433.5 255 435.3 244Z" fill="#2b9fd6" fill-opacity="0.18"/>
<line x1="435.3" y1="245" x2="435.3" y2="290" stroke="#2b9fd6" stroke-width="0.9" stroke-opacity="0.5"/>
<path d="M433.5 290.5 L437 290.5 L441.8 295 L428.8 295 Z" fill="#2b9fd6"/>
<line x1="467.6" y1="251.8" x2="467.6" y2="294" stroke="#2b9fd6" stroke-width="0.5" stroke-opacity="0.3"/>
<line x1="318.5" y1="248.3" x2="334.9" y2="248.3" stroke="#1c1c1c" stroke-width="1.1"/>
<line x1="333.8" y1="260.3" x2="348.6" y2="260.3" stroke="#1c1c1c" stroke-width="1.1"/>
<line x1="351.8" y1="264.7" x2="366.5" y2="264.7" stroke="#1c1c1c" stroke-width="1.1"/>
<line x1="364.4" y1="270.4" x2="380.3" y2="270.4" stroke="#1c1c1c" stroke-width="1.1"/>
<line x1="383.2" y1="259.5" x2="397.9" y2="259.5" stroke="#1c1c1c" stroke-width="1.1"/>
<line x1="396.9" y1="264.1" x2="411.7" y2="264.1" stroke="#1c1c1c" stroke-width="1.1"/>
<line x1="414.8" y1="268.3" x2="430.2" y2="268.3" stroke="#1c1c1c" stroke-width="1.1"/>
<line x1="427.5" y1="291.1" x2="443.3" y2="291.1" stroke="#1c1c1c" stroke-width="1.1"/>
<line x1="445.8" y1="263.5" x2="462.2" y2="263.5" stroke="#1c1c1c" stroke-width="1.1"/>
<line x1="458.7" y1="294.4" x2="475.1" y2="294.4" stroke="#1c1c1c" stroke-width="1.1"/>
<path d="M319.5 211.5 V298.3 H474.6" fill="none" stroke="#231f20" stroke-width="1.1"/>
<text x="322.7" y="190.8" font-size="6.4" fill="#c8102e" stroke="#c8102e" stroke-width="0.12" textLength="28.8" lengthAdjust="spacingAndGlyphs">Ifnar1 +/–</text>
<text x="322.7" y="202.3" font-size="6.4" fill="#2a8fc8" stroke="#2a8fc8" stroke-width="0.12" textLength="27.7" lengthAdjust="spacingAndGlyphs">Ifnar1 –/–</text>
<text x="339.6" y="215.0" font-size="10.8" fill="#231f20" stroke="#231f20" stroke-width="0.12" text-anchor="middle" textLength="12.3" lengthAdjust="spacingAndGlyphs">***</text>
<text x="371.9" y="215.0" font-size="10.8" fill="#231f20" stroke="#231f20" stroke-width="0.12" text-anchor="middle" textLength="12.3" lengthAdjust="spacingAndGlyphs">***</text>
<text x="403.85" y="215.0" font-size="10.8" fill="#231f20" stroke="#231f20" stroke-width="0.12" text-anchor="middle" textLength="12.3" lengthAdjust="spacingAndGlyphs">***</text>
<text x="435.3" y="215.0" font-size="10.8" fill="#231f20" stroke="#231f20" stroke-width="0.12" text-anchor="middle" textLength="12.3" lengthAdjust="spacingAndGlyphs">***</text>
<text x="464.7" y="215.0" font-size="10.8" fill="#231f20" stroke="#231f20" stroke-width="0.12" text-anchor="middle" textLength="12.3" lengthAdjust="spacingAndGlyphs">***</text>
<text transform="translate(316.4 254.6) rotate(-90)" font-size="7" fill="#231f20" text-anchor="middle" textLength="50.7" lengthAdjust="spacingAndGlyphs" font-family='"Liberation Sans", sans-serif' stroke="#231f20" stroke-width="0.12">Expression (log2)</text>
<text x="334.6" y="308" font-size="7" fill="#231f20" stroke="#231f20" stroke-width="0.12" font-style="italic" text-anchor="middle" textLength="14.7" lengthAdjust="spacingAndGlyphs">Cdk6</text>
<text x="365.7" y="308" font-size="7" fill="#231f20" stroke="#231f20" stroke-width="0.12" font-style="italic" text-anchor="middle" textLength="18.1" lengthAdjust="spacingAndGlyphs">Gata2</text>
<text x="399.3" y="308" font-size="7" fill="#231f20" stroke="#231f20" stroke-width="0.12" font-style="italic" text-anchor="middle" textLength="13.3" lengthAdjust="spacingAndGlyphs">Msi2</text>
<text x="432.4" y="308" font-size="7" fill="#231f20" stroke="#231f20" stroke-width="0.12" font-style="italic" text-anchor="middle" textLength="23.2" lengthAdjust="spacingAndGlyphs">Trim30a</text>
<text x="462" y="308" font-size="7" fill="#231f20" stroke="#231f20" stroke-width="0.12" font-style="italic" text-anchor="middle" textLength="9.4" lengthAdjust="spacingAndGlyphs">Irf7</text>
<path d="M30.0 364.5 V423.3 H118.7" fill="none" stroke="#231f20" stroke-width="1.1"/>
<line x1="27.0" y1="423.1" x2="30.0" y2="423.1" stroke="#231f20" stroke-width="0.9" />
<text x="24.2" y="425.3" font-size="6.4" fill="#231f20" stroke="#231f20" stroke-width="0.12" text-anchor="end">0</text>
<line x1="27.0" y1="411.5" x2="30.0" y2="411.5" stroke="#231f20" stroke-width="0.9" />
<text x="24.2" y="413.7" font-size="6.4" fill="#231f20" stroke="#231f20" stroke-width="0.12" text-anchor="end" textLength="7.1" lengthAdjust="spacingAndGlyphs">20</text>
<line x1="27.0" y1="399.90000000000003" x2="30.0" y2="399.90000000000003" stroke="#231f20" stroke-width="0.9" />
<text x="24.2" y="402.1" font-size="6.4" fill="#231f20" stroke="#231f20" stroke-width="0.12" text-anchor="end" textLength="7.1" lengthAdjust="spacingAndGlyphs">40</text>
<line x1="27.0" y1="388.3" x2="30.0" y2="388.3" stroke="#231f20" stroke-width="0.9" />
<text x="24.2" y="390.5" font-size="6.4" fill="#231f20" stroke="#231f20" stroke-width="0.12" text-anchor="end" textLength="7.1" lengthAdjust="spacingAndGlyphs">60</text>
<line x1="27.0" y1="376.70000000000005" x2="30.0" y2="376.70000000000005" stroke="#231f20" stroke-width="0.9" />
<text x="24.2" y="378.90000000000003" font-size="6.4" fill="#231f20" stroke="#231f20" stroke-width="0.12" text-anchor="end" textLength="7.1" lengthAdjust="spacingAndGlyphs">80</text>
<line x1="27.0" y1="365.1" x2="30.0" y2="365.1" stroke="#231f20" stroke-width="0.9" />
<text x="24.2" y="367.3" font-size="6.4" fill="#231f20" stroke="#231f20" stroke-width="0.12" text-anchor="end" textLength="10.7" lengthAdjust="spacingAndGlyphs">100</text>
<line x1="30.4" y1="423.3" x2="30.4" y2="425.90000000000003" stroke="#231f20" stroke-width="0.9" />
<text x="30.4" y="435.4" font-size="6" fill="#231f20" stroke="#231f20" stroke-width="0.12" text-anchor="middle">0</text>
<line x1="57.55" y1="423.3" x2="57.55" y2="425.90000000000003" stroke="#231f20" stroke-width="0.9" />
<text x="57.55" y="435.4" font-size="6" fill="#231f20" stroke="#231f20" stroke-width="0.12" text-anchor="middle">20</text>
<line x1="84.69999999999999" y1="423.3" x2="84.69999999999999" y2="425.90000000000003" stroke="#231f20" stroke-width="0.9" />
<text x="84.69999999999999" y="435.4" font-size="6" fill="#231f20" stroke="#231f20" stroke-width="0.12" text-anchor="middle">40</text>
<line x1="111.85" y1="423.3" x2="111.85" y2="425.90000000000003" stroke="#231f20" stroke-width="0.9" />
<text x="111.85" y="435.4" font-size="6" fill="#231f20" stroke="#231f20" stroke-width="0.12" text-anchor="middle">60</text>
<path d="M30.4 365.10 H69.40 V370.90 H77.70 V376.70 H87.50 V382.50 H89.00 V388.30 H90.50 V394.10 H96.60 V405.70 H106.40 V417.30 H113.20 V423.10" fill="none" stroke="#1f4e8a" stroke-width="1.2"/><path d="M30.4 365.10 H61.00 V369.93 H74.70 V374.77 H77.70 V379.60 H79.20 V384.43 H81.50 V389.27 H83.70 V394.10 H86.00 V398.93 H87.50 V403.77 H89.80 V408.60 H91.30 V413.43 H92.90 V423.10" fill="none" stroke="#d0103a" stroke-width="1.2"/>
<text transform="translate(8.2 392.8) rotate(-90)" font-size="8.6" fill="#231f20" text-anchor="middle" textLength="38.3" lengthAdjust="spacingAndGlyphs" font-family='"Liberation Sans", sans-serif' stroke="#231f20" stroke-width="0.12">Percent alive</text>
<text x="58.7" y="446.9" font-size="8.4" fill="#231f20" stroke="#231f20" stroke-width="0.12" textLength="32.6" lengthAdjust="spacingAndGlyphs">Age (days)</text>
<text x="40" y="384.3" font-size="7" fill="#c0203a" stroke="#c0203a" stroke-width="0.12" textLength="29.3" lengthAdjust="spacingAndGlyphs">Vav1-Cre;</text>
<text x="40" y="391.3" font-size="7" fill="#c0203a" stroke="#c0203a" stroke-width="0.12" textLength="25.3" lengthAdjust="spacingAndGlyphs">Flt3-ITD;</text>
<text x="40" y="399.4" font-size="7" fill="#c0203a" stroke="#c0203a" stroke-width="0.12" textLength="22.2" lengthAdjust="spacingAndGlyphs">NHD13;</text>
<text x="40" y="407.1" font-size="7" fill="#c0203a" stroke="#c0203a" stroke-width="0.12" textLength="26.2" lengthAdjust="spacingAndGlyphs">Ifnar +/–</text>
<text x="64.3" y="417" font-size="7" fill="#c0203a" stroke="#c0203a" stroke-width="0.12" textLength="22.8" lengthAdjust="spacingAndGlyphs">(n = 12)</text>
<text x="85.5" y="366.1" font-size="7" fill="#33598f" stroke="#33598f" stroke-width="0.12" textLength="53.6" lengthAdjust="spacingAndGlyphs">Vav1-Cre; Flt3-ITD</text>
<text x="85.5" y="373.2" font-size="7" fill="#33598f" stroke="#33598f" stroke-width="0.12" textLength="49.5" lengthAdjust="spacingAndGlyphs">NHD13; Ifnar –/–</text>
<text x="99.2" y="382.6" font-size="7" fill="#33598f" stroke="#33598f" stroke-width="0.12" textLength="22.6" lengthAdjust="spacingAndGlyphs">(n = 10)</text>
<text x="99.2" y="400.4" font-size="8.2" fill="#231f20" textLength="24.7" lengthAdjust="spacingAndGlyphs" stroke="#231f20" stroke-width="0.12"><tspan font-style="italic">P</tspan> &lt; .05</text>
<polygon points="205.80,361.30 206.81,363.21 208.94,363.58 207.43,365.13 207.74,367.27 205.80,366.32 203.86,367.27 204.17,365.13 202.66,363.58 204.79,363.21" fill="#b3133d"/>
<polygon points="214.50,361.10 215.51,363.01 217.64,363.38 216.13,364.93 216.44,367.07 214.50,366.12 212.56,367.07 212.87,364.93 211.36,363.38 213.49,363.01" fill="#b3133d"/>
<polygon points="205.80,369.40 206.81,371.31 208.94,371.68 207.43,373.23 207.74,375.37 205.80,374.42 203.86,375.37 204.17,373.23 202.66,371.68 204.79,371.31" fill="#b3133d"/>
<polygon points="211.80,368.10 212.81,370.01 214.94,370.38 213.43,371.93 213.74,374.07 211.80,373.12 209.86,374.07 210.17,371.93 208.66,370.38 210.79,370.01" fill="#b3133d"/>
<polygon points="219.90,369.40 220.91,371.31 223.04,371.68 221.53,373.23 221.84,375.37 219.90,374.42 217.96,375.37 218.27,373.23 216.76,371.68 218.89,371.31" fill="#b3133d"/>
<polygon points="211.80,376.80 212.81,378.71 214.94,379.08 213.43,380.63 213.74,382.77 211.80,381.82 209.86,382.77 210.17,380.63 208.66,379.08 210.79,378.71" fill="#b3133d"/>
<circle cx="168.7" cy="389.3" r="2.7" fill="#a9b77c"/>
<circle cx="176.8" cy="386.6" r="2.7" fill="#a9b77c"/>
<circle cx="184.2" cy="391.1" r="2.7" fill="#a9b77c"/>
<circle cx="168.1" cy="397.8" r="2.7" fill="#a9b77c"/>
<circle cx="176.8" cy="395.4" r="2.7" fill="#a9b77c"/>
<circle cx="184.9" cy="399.1" r="2.7" fill="#a9b77c"/>
<circle cx="176.8" cy="402.8" r="2.7" fill="#a9b77c"/>
<line x1="199.8" y1="378.6" x2="194" y2="385.6" stroke="#111" stroke-width="1.1"/>
<polygon points="191.5,388.2 192.4,383.2 196.3,386.4" fill="#111"/>
<path d="M190.5 398.5 C200 392 222 390 234 400" fill="none" stroke="#111" stroke-width="1.1"/>
<polygon points="236.8,405 231.6,401.6 236,398.6" fill="#111"/>
<g fill="none" stroke="#555" stroke-width="0.65" stroke-linejoin="round" stroke-linecap="round">
<path d="M228.12 424.38 C226.88 418.75 231.25 408.75 240.00 405.62 C246.25 405.00 251.25 407.50 255.00 410.00 C258.75 408.75 261.88 408.75 263.75 411.25 C267.50 415.00 270.62 418.75 271.50 421.50 C270.00 423.12 266.88 424.38 264.38 425.00 C263.12 425.62 265.00 427.75 265.62 428.50 C262.50 429.38 258.75 429.00 256.25 428.75 C253.75 427.50 252.50 423.75 251.25 421.88 C248.75 423.12 245.62 425.00 243.75 426.25 C244.38 428.12 245.62 430.00 245.00 431.25 C241.88 431.25 238.75 430.62 238.12 429.38 C236.25 427.75 232.50 426.25 228.12 424.38" fill="#fff"/>
<path d="M255.00 411.25 C254.75 407.50 260.00 406.25 262.25 409.00 C263.12 411.25 261.25 415.00 258.12 415.62 C256.25 415.00 255.25 413.75 255.00 411.25"/>
<path d="M228.75 424.38 C222.50 425.62 220.00 432.50 223.75 436.88 C228.75 440.62 240.00 438.12 248.50 434.00"/><path d="M230.00 426.25 C224.38 427.75 222.50 432.50 225.62 435.62 C230.00 438.75 240.00 436.62 247.75 433.12" stroke-width="0.5"/>
<path d="M268.75 416.25 L266.88 410.62 M268.75 416.25 L270.00 410.62 M268.75 416.25 L272.50 412.50 M268.75 416.25 L273.75 415.62 M268.75 416.25 L273.75 418.75" stroke-width="0.5"/>
<path d="M252.50 421.88 C253.75 425.00 255.00 427.75 256.25 428.75"/>
<path d="M243.75 426.25 C241.25 426.88 240.00 428.75 238.75 430.00"/>
</g>
<circle cx="265.00" cy="418.12" r="0.8" fill="#222"/>
<path d="M262.50 423.12 C263.75 425.00 265.62 424.38 267.50 424.00" fill="none" stroke="#222" stroke-width="1"/>
<text x="156.8" y="419.6" font-size="8.2" fill="#231f20" stroke="#231f20" stroke-width="0.12" textLength="25.2" lengthAdjust="spacingAndGlyphs">NHD13</text>
<text x="156.8" y="428.8" font-size="8.2" fill="#231f20" stroke="#231f20" stroke-width="0.12" textLength="25.2" lengthAdjust="spacingAndGlyphs">LK cells</text>
<text x="225.2" y="365.9" font-size="7.6" fill="#231f20" textLength="56" lengthAdjust="spacingAndGlyphs" stroke="#231f20" stroke-width="0.12">FLT3<tspan font-size="4.8" dy="-3.2">ITD</tspan><tspan dy="3.2">-mCherry</tspan></text>
<text x="225.2" y="375.2" font-size="7.6" fill="#231f20" stroke="#231f20" stroke-width="0.12" textLength="32" lengthAdjust="spacingAndGlyphs">retrovirus</text>
<text x="238.4" y="397.8" font-size="7.4" fill="#231f20" stroke="#231f20" stroke-width="0.12" textLength="34.9" lengthAdjust="spacingAndGlyphs">Transplant</text>
<path d="M327.8 356.8 V423.2 H371.6" fill="none" stroke="#231f20" stroke-width="1.1"/>
<line x1="325.2" y1="423.2" x2="327.8" y2="423.2" stroke="#231f20" stroke-width="0.9" />
<text x="322.0" y="425.4" font-size="6.2" fill="#231f20" stroke="#231f20" stroke-width="0.12" text-anchor="end">0</text>
<line x1="325.2" y1="410.21999999999997" x2="327.8" y2="410.21999999999997" stroke="#231f20" stroke-width="0.9" />
<text x="322.0" y="412.41999999999996" font-size="6.2" fill="#231f20" stroke="#231f20" stroke-width="0.12" text-anchor="end">20</text>
<line x1="325.2" y1="397.24" x2="327.8" y2="397.24" stroke="#231f20" stroke-width="0.9" />
<text x="322.0" y="399.44" font-size="6.2" fill="#231f20" stroke="#231f20" stroke-width="0.12" text-anchor="end">40</text>
<line x1="325.2" y1="384.26" x2="327.8" y2="384.26" stroke="#231f20" stroke-width="0.9" />
<text x="322.0" y="386.46" font-size="6.2" fill="#231f20" stroke="#231f20" stroke-width="0.12" text-anchor="end">60</text>
<line x1="325.2" y1="371.28" x2="327.8" y2="371.28" stroke="#231f20" stroke-width="0.9" />
<text x="322.0" y="373.47999999999996" font-size="6.2" fill="#231f20" stroke="#231f20" stroke-width="0.12" text-anchor="end">80</text>
<line x1="325.2" y1="358.29999999999995" x2="327.8" y2="358.29999999999995" stroke="#231f20" stroke-width="0.9" />
<text x="322.0" y="360.49999999999994" font-size="6.2" fill="#231f20" stroke="#231f20" stroke-width="0.12" text-anchor="end">100</text>
<line x1="340.3" y1="423.2" x2="340.3" y2="426.2" stroke="#231f20" stroke-width="0.9" />
<line x1="358.8" y1="423.2" x2="358.8" y2="426.2" stroke="#231f20" stroke-width="0.9" />
<text transform="translate(304.8 391.8) rotate(-90)" font-size="8.2" fill="#231f20" text-anchor="middle" textLength="50.6" lengthAdjust="spacingAndGlyphs" font-family='"Liberation Sans", sans-serif' stroke="#231f20" stroke-width="0.12">mCherry pos (%)</text>
<text x="341.15" y="435.8" font-size="6.6" fill="#231f20" stroke="#231f20" stroke-width="0.12" text-anchor="middle" textLength="9.3" lengthAdjust="spacingAndGlyphs">+/–</text>
<text x="359.2" y="435.8" font-size="6.6" fill="#231f20" stroke="#231f20" stroke-width="0.12" text-anchor="middle" textLength="9.2" lengthAdjust="spacingAndGlyphs">–/–</text>
<line x1="340.2" y1="377.6" x2="340.2" y2="409.2" stroke="#c8102e" stroke-width="1.1"/>
<line x1="336.8" y1="377.6" x2="343.59999999999997" y2="377.6" stroke="#c8102e" stroke-width="1.1"/>
<line x1="336.8" y1="409.2" x2="343.59999999999997" y2="409.2" stroke="#c8102e" stroke-width="1.1"/>
<line x1="333.8" y1="393.2" x2="346.59999999999997" y2="393.2" stroke="#1a1a1a" stroke-width="1.3"/>
<line x1="358.8" y1="380.6" x2="358.8" y2="414.5" stroke="#1d5392" stroke-width="1.1"/>
<line x1="355.40000000000003" y1="380.6" x2="362.2" y2="380.6" stroke="#1d5392" stroke-width="1.1"/>
<line x1="355.40000000000003" y1="414.5" x2="362.2" y2="414.5" stroke="#1d5392" stroke-width="1.1"/>
<line x1="352.40000000000003" y1="397.6" x2="365.2" y2="397.6" stroke="#1a1a1a" stroke-width="1.3"/>
<circle cx="338.40" cy="368.1" r="1.1" fill="#c8102e"/>
<circle cx="342.40" cy="368.7" r="1.1" fill="#c8102e"/>
<circle cx="340.80" cy="374" r="1.1" fill="#c8102e"/>
<circle cx="340.40" cy="383.8" r="1.1" fill="#c8102e"/>
<circle cx="340.80" cy="388.2" r="1.1" fill="#c8102e"/>
<circle cx="337.70" cy="394.4" r="1.1" fill="#c8102e"/>
<circle cx="342.10" cy="394.4" r="1.1" fill="#c8102e"/>
<circle cx="340.40" cy="397.1" r="1.1" fill="#c8102e"/>
<circle cx="340.80" cy="403.3" r="1.1" fill="#c8102e"/>
<circle cx="340.40" cy="413.1" r="1.1" fill="#c8102e"/>
<circle cx="340.40" cy="419.3" r="1.1" fill="#c8102e"/>
<circle cx="357.00" cy="368.3" r="1.1" fill="#1d5392"/>
<circle cx="361.80" cy="369.2" r="1.1" fill="#1d5392"/>
<circle cx="357.00" cy="371" r="1.1" fill="#1d5392"/>
<circle cx="360.80" cy="394.4" r="1.1" fill="#1d5392"/>
<circle cx="358.20" cy="400.7" r="1.1" fill="#1d5392"/>
<circle cx="360.00" cy="401.6" r="1.1" fill="#1d5392"/>
<circle cx="359.10" cy="408.7" r="1.1" fill="#1d5392"/>
<circle cx="357.30" cy="414.9" r="1.1" fill="#1d5392"/>
<circle cx="361.70" cy="414.9" r="1.1" fill="#1d5392"/>
<circle cx="357.60" cy="419.7" r="1.1" fill="#1d5392"/>
<circle cx="361.70" cy="419.3" r="1.1" fill="#1d5392"/>
<path d="M417.4 364.3 V423.6 H510" fill="none" stroke="#231f20" stroke-width="1.1"/>
<line x1="414.4" y1="423.5" x2="417.4" y2="423.5" stroke="#231f20" stroke-width="0.9" />
<text x="411.6" y="425.8" font-size="6.6" fill="#231f20" stroke="#231f20" stroke-width="0.12" text-anchor="end">0</text>
<line x1="414.4" y1="411.82" x2="417.4" y2="411.82" stroke="#231f20" stroke-width="0.9" />
<text x="411.6" y="414.12" font-size="6.6" fill="#231f20" stroke="#231f20" stroke-width="0.12" text-anchor="end" textLength="7.4" lengthAdjust="spacingAndGlyphs">20</text>
<line x1="414.4" y1="400.14" x2="417.4" y2="400.14" stroke="#231f20" stroke-width="0.9" />
<text x="411.6" y="402.44" font-size="6.6" fill="#231f20" stroke="#231f20" stroke-width="0.12" text-anchor="end" textLength="7.4" lengthAdjust="spacingAndGlyphs">40</text>
<line x1="414.4" y1="388.46" x2="417.4" y2="388.46" stroke="#231f20" stroke-width="0.9" />
<text x="411.6" y="390.76" font-size="6.6" fill="#231f20" stroke="#231f20" stroke-width="0.12" text-anchor="end" textLength="7.4" lengthAdjust="spacingAndGlyphs">60</text>
<line x1="414.4" y1="376.78" x2="417.4" y2="376.78" stroke="#231f20" stroke-width="0.9" />
<text x="411.6" y="379.08" font-size="6.6" fill="#231f20" stroke="#231f20" stroke-width="0.12" text-anchor="end" textLength="7.4" lengthAdjust="spacingAndGlyphs">80</text>
<line x1="414.4" y1="365.1" x2="417.4" y2="365.1" stroke="#231f20" stroke-width="0.9" />
<text x="411.6" y="367.40000000000003" font-size="6.6" fill="#231f20" stroke="#231f20" stroke-width="0.12" text-anchor="end" textLength="11.3" lengthAdjust="spacingAndGlyphs">100</text>
<line x1="417.5" y1="423.6" x2="417.5" y2="426.20000000000005" stroke="#231f20" stroke-width="0.9" />
<text x="417.5" y="435.8" font-size="7" fill="#231f20" stroke="#231f20" stroke-width="0.12" text-anchor="middle">0</text>
<line x1="439.75" y1="423.6" x2="439.75" y2="426.20000000000005" stroke="#231f20" stroke-width="0.9" />
<text x="439.75" y="435.8" font-size="7" fill="#231f20" stroke="#231f20" stroke-width="0.12" text-anchor="middle" textLength="7.4" lengthAdjust="spacingAndGlyphs">50</text>
<line x1="462.0" y1="423.6" x2="462.0" y2="426.20000000000005" stroke="#231f20" stroke-width="0.9" />
<text x="462.0" y="435.8" font-size="7" fill="#231f20" stroke="#231f20" stroke-width="0.12" text-anchor="middle" textLength="10.8" lengthAdjust="spacingAndGlyphs">100</text>
<line x1="484.25" y1="423.6" x2="484.25" y2="426.20000000000005" stroke="#231f20" stroke-width="0.9" />
<text x="484.25" y="435.8" font-size="7" fill="#231f20" stroke="#231f20" stroke-width="0.12" text-anchor="middle" textLength="10.8" lengthAdjust="spacingAndGlyphs">150</text>
<line x1="506.5" y1="423.6" x2="506.5" y2="426.20000000000005" stroke="#231f20" stroke-width="0.9" />
<text x="506.5" y="435.8" font-size="7" fill="#231f20" stroke="#231f20" stroke-width="0.12" text-anchor="middle" textLength="10.8" lengthAdjust="spacingAndGlyphs">200</text>
<path d="M418.03 364.09 L437.21 364.09 L437.21 368.13 L441.25 368.13 L441.25 372.16 L448.32 372.16 L448.32 375.19 L450.34 375.19 L450.34 378.22 L452.36 378.22 L452.36 381.25 L458.42 381.25 L458.42 385.29 L463.47 385.29 L463.47 388.32 L466.49 388.32 L466.49 392.36 L467.50 392.36 L467.50 396.40 L472.55 396.40 L472.55 399.43 L476.59 399.43 L476.59 402.46 L480.63 402.46 L480.63 405.48 L483.66 405.48 L483.66 408.51 L485.68 408.51 L485.68 412.55 L488.71 412.55 L488.71 416.59 L506.88 416.59" fill="none" stroke="#1f4e8a" stroke-width="1.2"/><path d="M418.03 364.09 L435.19 364.09 L435.19 368.13 L440.24 368.13 L440.24 372.16 L442.26 372.16 L442.26 377.21 L443.27 377.21 L443.27 381.25 L445.29 381.25 L445.29 385.29 L447.31 385.29 L447.31 391.35 L451.35 391.35 L451.35 397.41 L453.37 397.41 L453.37 403.47 L454.38 403.47 L454.38 409.52 L455.39 409.52 L455.39 413.56 L457.41 413.56 L457.41 419.62 L477.60 419.62 L477.60 422.65" fill="none" stroke="#d0103a" stroke-width="1.2"/>
<text transform="translate(395.8 392.5) rotate(-90)" font-size="8.6" fill="#231f20" text-anchor="middle" textLength="39" lengthAdjust="spacingAndGlyphs" font-family='"Liberation Sans", sans-serif' stroke="#231f20" stroke-width="0.12">Percent alive</text>
<text x="430.2" y="446.6" font-size="8.2" fill="#231f20" stroke="#231f20" stroke-width="0.12" textLength="63" lengthAdjust="spacingAndGlyphs">Days after transplant</text>
<text x="465.6" y="366.1" font-size="6.8" fill="#33598f" stroke="#33598f" stroke-width="0.12" textLength="23.2" lengthAdjust="spacingAndGlyphs">Flt3-ITD</text>
<text x="465.6" y="374.5" font-size="6.8" fill="#33598f" stroke="#33598f" stroke-width="0.12" textLength="22.2" lengthAdjust="spacingAndGlyphs">NHD13;</text>
<text x="465.6" y="382.3" font-size="6.8" fill="#33598f" stroke="#33598f" stroke-width="0.12" textLength="24.2" lengthAdjust="spacingAndGlyphs">Ifnar –/–</text>
<text x="470" y="392.6" font-size="6.8" fill="#33598f" stroke="#33598f" stroke-width="0.12" textLength="23" lengthAdjust="spacingAndGlyphs">(n = 17)</text>
<text x="419.9" y="390.1" font-size="6.8" fill="#c0203a" stroke="#c0203a" stroke-width="0.12" textLength="24.1" lengthAdjust="spacingAndGlyphs">Flt3-ITD</text>
<text x="419.9" y="397.6" font-size="6.8" fill="#c0203a" stroke="#c0203a" stroke-width="0.12" textLength="23.3" lengthAdjust="spacingAndGlyphs">NHD13;</text>
<text x="419.9" y="405" font-size="6.8" fill="#c0203a" stroke="#c0203a" stroke-width="0.12" textLength="25.3" lengthAdjust="spacingAndGlyphs">Ifnar +/–</text>
<text x="428.5" y="415" font-size="6.8" fill="#c0203a" stroke="#c0203a" stroke-width="0.12" textLength="23.3" lengthAdjust="spacingAndGlyphs">(n = 15)</text>
<text x="491.7" y="408.5" font-size="8" fill="#33598f" textLength="27.3" lengthAdjust="spacingAndGlyphs" stroke="#33598f" stroke-width="0.12"><tspan font-style="italic">P</tspan> &lt; .001</text>
</svg></body></html>
